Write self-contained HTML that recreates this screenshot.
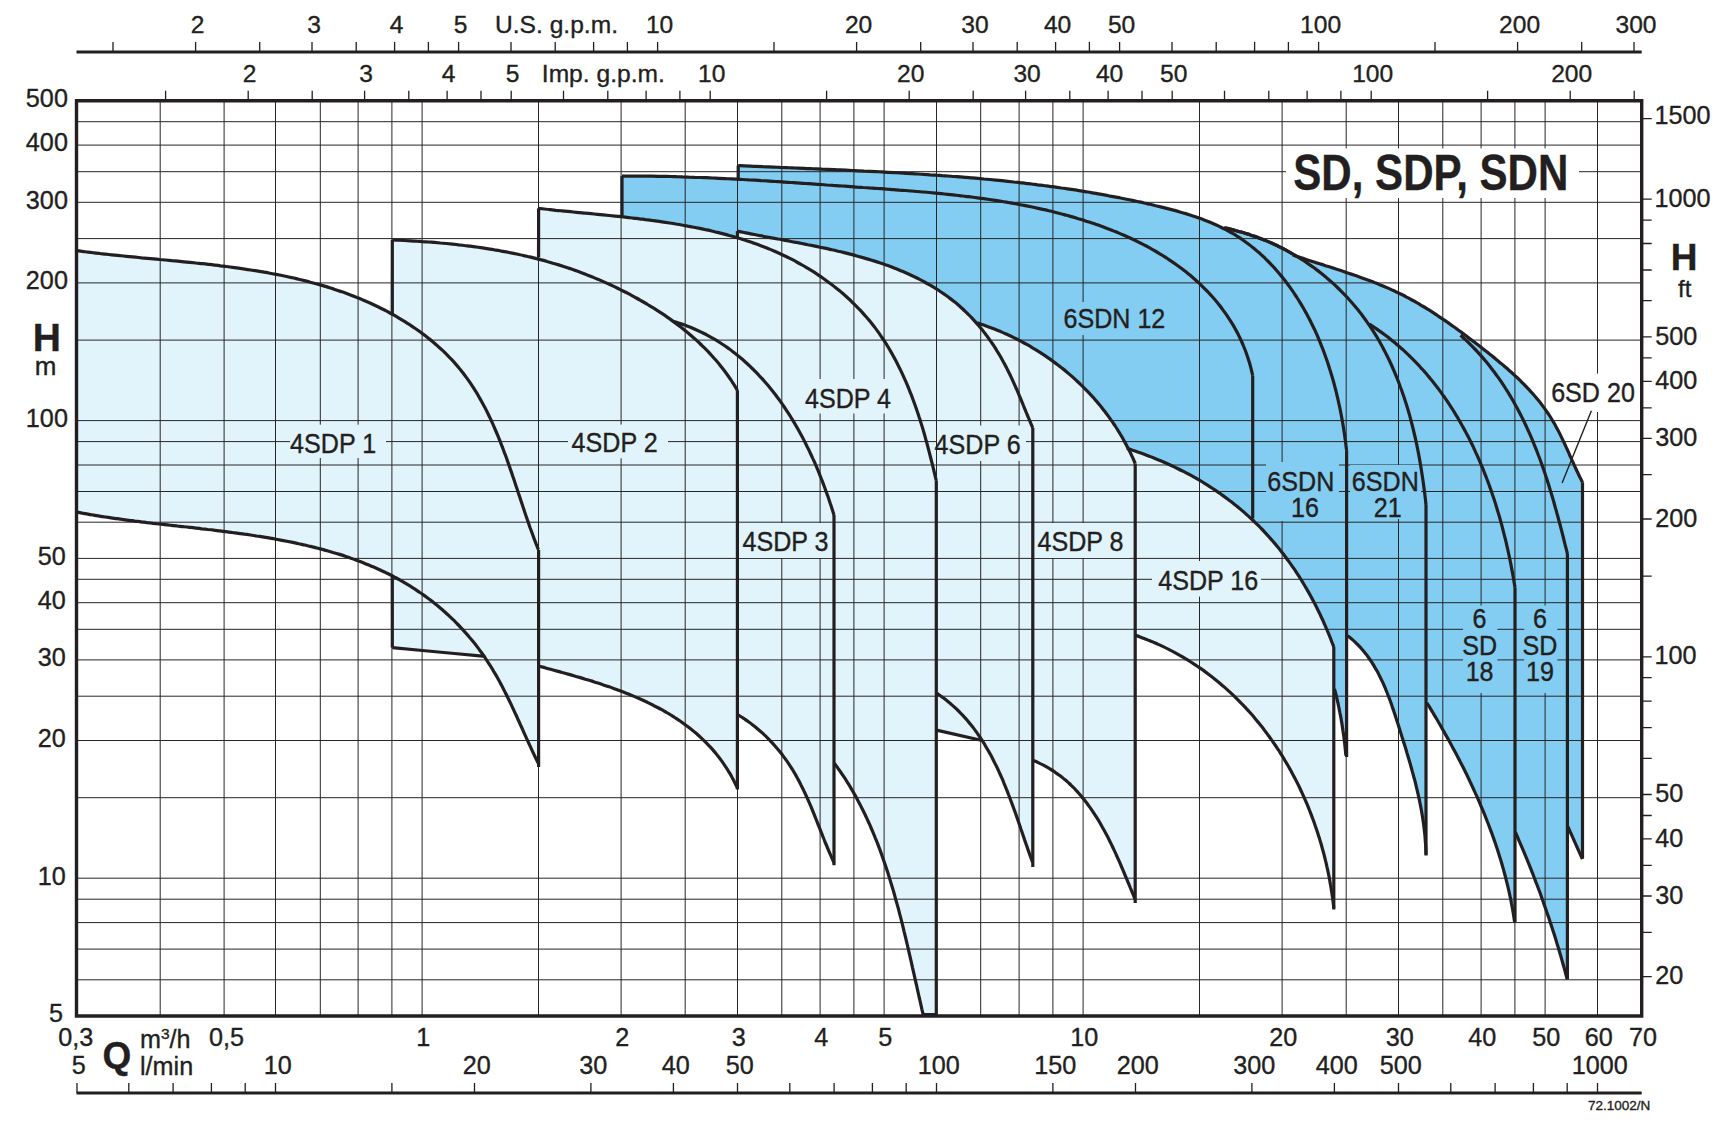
<!DOCTYPE html><html><head><meta charset="utf-8"><style>html,body{margin:0;padding:0;background:#fff;}svg{display:block}text{font-family:"Liberation Sans",Arial,Helvetica,sans-serif;fill:#231f20;stroke:#231f20;stroke-width:0.35px}</style></head><body>
<svg width="1730" height="1130" viewBox="0 0 1730 1130">
<rect width="1730" height="1130" fill="#fff"/>
<path d="M622 176.1C623 176.1 626.1 176.1 628.1 176.1C630.1 176.1 632.1 176.1 634.1 176.1C636.2 176.1 638.2 176.1 640.2 176.1C642.2 176.1 644.3 176.1 646.3 176.1C648.3 176.1 650.3 176.2 652.3 176.2C654.3 176.2 656.4 176.2 658.4 176.3C660.4 176.3 662.4 176.3 664.4 176.4C666.4 176.4 668.5 176.5 670.5 176.5C672.5 176.6 674.5 176.6 676.5 176.7C678.5 176.7 680.6 176.8 682.6 176.9C684.6 176.9 686.6 177 688.6 177.1C690.6 177.1 692.6 177.2 694.6 177.3C696.6 177.3 698.7 177.4 700.7 177.5C702.7 177.6 704.7 177.7 706.7 177.7C708.7 177.8 710.7 177.9 712.7 178C714.7 178.1 716.7 178.2 718.7 178.3C720.8 178.4 722.8 178.5 724.8 178.6C726.8 178.7 728.8 178.8 730.8 178.9C732.8 179 735.8 179.1 736.8 179.2L738.2 165.6C739.2 165.6 742.2 165.8 744.2 165.8C746.2 165.9 748.2 166 750.2 166.1C752.2 166.2 754.1 166.3 756.1 166.3C758.1 166.4 760.1 166.5 762.1 166.6C764.1 166.6 766.1 166.7 768.1 166.8C770.1 166.9 772.1 167 774.1 167.1C776.1 167.2 778.1 167.3 780.1 167.4C782.1 167.4 784.1 167.5 786.1 167.6C788.1 167.7 790.1 167.8 792.1 167.9C794.1 168 796.1 168 798.1 168.1C800.1 168.2 802.1 168.3 804 168.4C806 168.5 808 168.6 810 168.6C812 168.7 814 168.8 816 168.9C818 169 820 169.1 822 169.2C824 169.2 826 169.3 828 169.4C830 169.5 832 169.6 834 169.7C836 169.8 838 169.9 840 169.9C842 170 844 170.1 846 170.2C848 170.3 850 170.4 852 170.5C854 170.6 856 170.7 858 170.8C860 170.9 862 171 864 171.1C866 171.1 868 171.2 870 171.3C872 171.4 874 171.5 876 171.6C878 171.7 880 171.8 882 171.9C884 172.1 886 172.2 888 172.3C890 172.4 892 172.5 894 172.6C896 172.7 898 172.8 900 172.9C902 173 904 173.1 906 173.3C908 173.4 910 173.5 912 173.6C914 173.7 916 173.9 918 174C920 174.1 922 174.2 924 174.4C926 174.5 928 174.6 930 174.8C932 174.9 934 175 936 175.2C938 175.3 940 175.4 942 175.6C944 175.7 946 175.9 948 176C950 176.2 952 176.3 954 176.5C956 176.6 958 176.8 960 176.9C962 177.1 964 177.2 966 177.4C968 177.6 970 177.7 972 177.9C974 178.1 976 178.3 977.9 178.4C979.9 178.6 981.9 178.8 983.9 179C985.9 179.1 987.9 179.3 989.9 179.5C991.9 179.7 993.9 179.9 995.9 180.1C997.9 180.3 999.9 180.5 1001.9 180.7C1003.8 180.9 1005.8 181.1 1007.8 181.3C1009.8 181.5 1011.8 181.7 1013.8 182C1015.8 182.2 1017.8 182.4 1019.8 182.6C1021.8 182.8 1023.7 183.1 1025.7 183.3C1027.7 183.5 1029.7 183.8 1031.7 184C1033.7 184.3 1035.7 184.5 1037.6 184.8C1039.6 185 1041.6 185.3 1043.6 185.5C1045.6 185.8 1047.6 186 1049.5 186.3C1051.5 186.6 1053.5 186.8 1055.5 187.1C1057.5 187.4 1059.5 187.7 1061.4 188C1063.4 188.2 1065.4 188.5 1067.4 188.8C1069.3 189.1 1071.3 189.4 1073.3 189.7C1075.3 190 1077.3 190.3 1079.2 190.7C1081.2 191 1083.2 191.3 1085.2 191.6C1087.1 191.9 1089.1 192.3 1091.1 192.6C1093.1 192.9 1095 193.3 1097 193.6C1099 194 1100.9 194.3 1102.9 194.7C1104.9 195 1106.9 195.4 1108.8 195.8C1110.8 196.1 1112.8 196.5 1114.7 196.9C1116.7 197.3 1118.7 197.6 1120.6 198C1122.6 198.4 1124.6 198.8 1126.5 199.2C1128.5 199.6 1130.4 200 1132.4 200.4C1134.4 200.8 1136.3 201.3 1138.3 201.7C1140.2 202.1 1142.2 202.5 1144.2 203C1146.1 203.4 1148.1 203.9 1150 204.3C1152 204.8 1153.9 205.2 1155.9 205.7C1157.9 206.1 1159.8 206.6 1161.8 207.1C1163.7 207.6 1165.7 208.1 1167.6 208.6C1169.5 209.1 1171.5 209.6 1173.4 210.1C1175.3 210.6 1177.3 211.2 1179.2 211.7C1181.1 212.3 1183 212.8 1185 213.4C1186.9 214 1188.8 214.6 1190.7 215.2C1192.6 215.8 1194.4 216.4 1196.3 217.1C1198.2 217.7 1200.1 218.4 1201.9 219.1C1203.8 219.8 1205.6 220.5 1207.5 221.2C1209.3 222 1211.1 222.7 1212.9 223.5C1214.7 224.3 1216.5 225.1 1218.3 225.9C1220.1 226.8 1222.7 228.1 1223.6 228.5L1224.2 227.8C1225.2 228 1228.2 228.7 1230.3 229.1C1232.3 229.6 1234.3 230.1 1236.2 230.7C1238.2 231.2 1240.2 231.7 1242.2 232.3C1244.1 232.9 1246.1 233.5 1248 234.1C1250 234.8 1251.9 235.4 1253.8 236.1C1255.8 236.8 1257.7 237.5 1259.6 238.2C1261.5 238.9 1263.4 239.7 1265.3 240.4C1267.1 241.2 1269 242 1270.9 242.8C1272.7 243.6 1274.6 244.5 1276.4 245.3C1278.2 246.2 1280 247.1 1281.8 248C1283.6 248.9 1285.4 249.9 1287.2 250.8C1289 251.8 1291.6 253.3 1292.5 253.8L1292.7 254.9C1293.7 255.2 1296.5 256.2 1298.5 256.9C1300.4 257.5 1302.3 258.2 1304.2 258.8C1306.2 259.4 1308.1 260.1 1310 260.7C1312 261.3 1313.9 261.9 1315.8 262.6C1317.8 263.2 1319.7 263.8 1321.7 264.4C1323.6 265 1325.5 265.7 1327.5 266.3C1329.4 266.9 1331.3 267.5 1333.3 268.1C1335.2 268.8 1337.1 269.4 1339.1 270C1341 270.6 1342.9 271.3 1344.9 271.9C1346.8 272.6 1348.7 273.2 1350.6 273.9C1352.6 274.5 1354.5 275.2 1356.4 275.8C1358.3 276.5 1360.2 277.2 1362.1 277.9C1364 278.6 1365.9 279.3 1367.8 280C1369.7 280.7 1371.6 281.4 1373.5 282.1C1375.4 282.9 1377.3 283.6 1379.1 284.4C1381 285.1 1382.9 285.9 1384.7 286.7C1386.6 287.5 1388.4 288.3 1390.3 289.1C1392.1 290 1393.9 290.8 1395.8 291.7C1397.6 292.5 1399.4 293.4 1401.2 294.3C1403 295.2 1404.8 296.1 1406.6 297.1C1408.4 298 1410.2 299 1411.9 300C1413.7 300.9 1415.5 301.9 1417.2 302.9C1419 303.9 1420.7 305 1422.4 306C1424.2 307 1425.9 308.1 1427.6 309.2C1429.4 310.2 1431.1 311.3 1432.8 312.4C1434.5 313.5 1436.2 314.6 1437.9 315.8C1439.6 316.9 1441.3 318 1442.9 319.2C1444.6 320.3 1446.3 321.5 1448 322.6C1449.6 323.8 1451.3 325 1453 326.2C1454.6 327.3 1456.3 328.5 1457.9 329.7C1459.6 330.9 1461.2 332.2 1462.8 333.4C1464.5 334.6 1466.1 335.8 1467.7 337.1C1469.4 338.3 1471 339.5 1472.6 340.8C1474.2 342 1475.8 343.2 1477.5 344.5C1479.1 345.7 1480.7 347 1482.3 348.3C1483.9 349.5 1485.5 350.8 1487.1 352C1488.7 353.3 1490.3 354.6 1491.9 355.8C1493.4 357.1 1495 358.4 1496.6 359.7C1498.2 361 1499.7 362.3 1501.3 363.6C1502.8 364.9 1504.4 366.2 1505.9 367.5C1507.4 368.8 1508.9 370.2 1510.4 371.5C1511.9 372.9 1513.4 374.2 1514.9 375.6C1516.4 377 1517.9 378.3 1519.3 379.7C1520.7 381.1 1522.2 382.5 1523.6 384C1525 385.4 1526.4 386.8 1527.8 388.3C1529.1 389.7 1530.5 391.2 1531.8 392.7C1533.2 394.2 1534.5 395.7 1535.8 397.2C1537.1 398.7 1538.3 400.3 1539.6 401.8C1540.8 403.4 1542 405 1543.2 406.6C1544.4 408.2 1545.6 409.8 1546.7 411.5C1547.9 413.1 1549 414.8 1550.1 416.5C1551.2 418.2 1552.2 419.9 1553.2 421.7C1554.3 423.4 1555.3 425.2 1556.2 427C1557.2 428.8 1558.2 430.6 1559.1 432.4C1560 434.2 1560.9 436.1 1561.8 437.9C1562.7 439.8 1563.6 441.7 1564.5 443.5C1565.4 445.4 1566.2 447.3 1567.1 449.1C1567.9 451 1568.8 452.9 1569.6 454.8C1570.4 456.7 1571.3 458.5 1572.1 460.4C1573 462.3 1573.8 464.1 1574.6 466C1575.5 467.8 1576.3 469.7 1577.2 471.5C1578.1 473.4 1578.9 475.2 1579.8 477C1580.7 478.8 1582.1 481.4 1582.5 482.3L1582.5 858.5L1582.4 859.1L1567.9 826.6L1567.4 979.5L1567.2 979.2C1566.9 978.2 1566.2 975.3 1565.6 973.4C1565.1 971.4 1564.6 969.5 1564.1 967.6C1563.5 965.7 1563 963.7 1562.4 961.8C1561.9 959.9 1561.3 957.9 1560.8 956C1560.2 954.1 1559.6 952.2 1559.1 950.3C1558.5 948.3 1557.9 946.4 1557.3 944.5C1556.7 942.6 1556.2 940.7 1555.6 938.8C1555 936.9 1554.4 935 1553.8 933C1553.2 931.1 1552.5 929.2 1551.9 927.3C1551.3 925.4 1550.7 923.5 1550 921.6C1549.4 919.7 1548.8 917.8 1548.1 915.9C1547.5 914.1 1546.8 912.2 1546.2 910.3C1545.5 908.4 1544.9 906.5 1544.2 904.6C1543.5 902.7 1542.9 900.8 1542.2 899C1541.5 897.1 1540.8 895.2 1540.2 893.3C1539.5 891.4 1538.8 889.6 1538.1 887.7C1537.4 885.8 1536.7 883.9 1535.9 882.1C1535.2 880.2 1534.5 878.3 1533.8 876.5C1533.1 874.6 1532.3 872.7 1531.6 870.9C1530.9 869 1530.1 867.1 1529.4 865.3C1528.6 863.4 1527.9 861.6 1527.1 859.7C1526.4 857.9 1525.6 856 1524.8 854.1C1524.1 852.3 1523.3 850.4 1522.5 848.6C1521.7 846.7 1520.9 844.9 1520.1 843.1C1519.3 841.2 1518.5 839.4 1517.7 837.5C1516.9 835.7 1515.7 832.9 1515.3 832L1515 922.2L1514.6 921.8C1514.4 920.8 1514 917.8 1513.7 915.8C1513.4 913.7 1513 911.7 1512.7 909.7C1512.3 907.7 1511.9 905.7 1511.5 903.7C1511.2 901.7 1510.8 899.7 1510.3 897.7C1509.9 895.8 1509.5 893.8 1509.1 891.8C1508.6 889.8 1508.2 887.8 1507.7 885.9C1507.2 883.9 1506.7 881.9 1506.2 879.9C1505.7 878 1505.2 876 1504.7 874C1504.2 872.1 1503.6 870.1 1503.1 868.2C1502.5 866.2 1502 864.3 1501.4 862.3C1500.8 860.4 1500.2 858.4 1499.6 856.5C1499 854.6 1498.4 852.6 1497.8 850.7C1497.2 848.8 1496.5 846.8 1495.9 844.9C1495.2 843 1494.6 841.1 1493.9 839.1C1493.2 837.2 1492.5 835.3 1491.9 833.4C1491.2 831.5 1490.4 829.6 1489.7 827.7C1489 825.8 1488.3 823.9 1487.5 822C1486.8 820.1 1486.1 818.2 1485.3 816.3C1484.5 814.4 1483.8 812.6 1483 810.7C1482.2 808.8 1481.4 806.9 1480.6 805.1C1479.8 803.2 1479 801.3 1478.2 799.4C1477.4 797.6 1476.6 795.7 1475.7 793.9C1474.9 792 1474 790.2 1473.2 788.3C1472.3 786.5 1471.5 784.6 1470.6 782.8C1469.7 780.9 1468.9 779.1 1468 777.3C1467.1 775.4 1466.2 773.6 1465.3 771.8C1464.4 770 1463.5 768.1 1462.6 766.3C1461.6 764.5 1460.7 762.7 1459.8 760.9C1458.8 759.1 1457.9 757.3 1457 755.5C1456 753.7 1455.1 751.9 1454.1 750.1C1453.1 748.3 1452.2 746.5 1451.2 744.7C1450.2 742.9 1449.3 741.2 1448.3 739.4C1447.3 737.6 1446.3 735.8 1445.3 734.1C1444.3 732.3 1443.3 730.5 1442.3 728.8C1441.3 727 1440.3 725.2 1439.3 723.5C1438.3 721.7 1437.2 720 1436.2 718.3C1435.2 716.5 1434.1 714.8 1433.1 713C1432 711.3 1431 709.6 1430 707.9C1428.9 706.1 1427.3 703.6 1426.8 702.7L1426 855.6L1426 854.5C1426 853.5 1425.9 850.4 1425.8 848.3C1425.7 846.3 1425.6 844.2 1425.4 842.2C1425.3 840.2 1425.1 838.1 1425 836.1C1424.8 834.1 1424.6 832.1 1424.3 830C1424.1 828 1423.8 826 1423.6 824C1423.3 822 1423 820 1422.7 818C1422.4 816 1422 814 1421.7 812C1421.3 810 1421 808 1420.6 806.1C1420.2 804.1 1419.8 802.1 1419.4 800.1C1419 798.1 1418.5 796.2 1418.1 794.2C1417.7 792.2 1417.2 790.3 1416.7 788.3C1416.2 786.3 1415.8 784.4 1415.3 782.4C1414.8 780.5 1414.3 778.5 1413.7 776.5C1413.2 774.6 1412.7 772.6 1412.1 770.7C1411.6 768.7 1411 766.8 1410.5 764.8C1409.9 762.9 1409.4 760.9 1408.8 759C1408.2 757 1407.6 755.1 1407 753.1C1406.5 751.2 1405.9 749.2 1405.3 747.3C1404.7 745.3 1404.1 743.4 1403.4 741.4C1402.8 739.5 1402.2 737.5 1401.6 735.6C1401 733.6 1400.4 731.7 1399.8 729.7C1399.2 727.8 1398.5 725.8 1397.9 723.8C1397.3 721.9 1396.7 719.9 1396 718C1395.4 716 1394.8 714.1 1394.1 712.1C1393.5 710.2 1392.8 708.3 1392.1 706.3C1391.5 704.4 1390.8 702.5 1390.1 700.5C1389.4 698.6 1388.7 696.7 1387.9 694.8C1387.2 692.9 1386.4 691.1 1385.7 689.2C1384.9 687.3 1384.1 685.5 1383.3 683.6C1382.4 681.8 1381.6 680 1380.7 678.2C1379.8 676.4 1378.9 674.6 1378 672.8C1377 671 1376.1 669.3 1375 667.6C1374 665.8 1373 664.1 1371.9 662.5C1370.8 660.8 1369.7 659.2 1368.5 657.5C1367.4 655.9 1366.2 654.3 1364.9 652.8C1363.7 651.2 1362.4 649.7 1361.1 648.2C1359.7 646.7 1358.3 645.2 1356.9 643.8C1355.4 642.3 1353.9 640.9 1352.4 639.6C1350.9 638.2 1348.4 636.3 1347.6 635.6L1346.6 757L1345.9 755.6C1345.8 754.6 1345.5 751.5 1345.3 749.4C1345.1 747.4 1344.9 745.3 1344.7 743.3C1344.4 741.2 1344.2 739.2 1343.9 737.2C1343.6 735.1 1343.3 733.1 1343 731C1342.7 729 1342.4 727 1342.1 724.9C1341.8 722.9 1341.4 720.9 1341.1 718.9C1340.7 716.8 1340.3 714.8 1339.9 712.8C1339.5 710.8 1339.1 708.8 1338.7 706.7C1338.3 704.7 1337.9 702.7 1337.4 700.7C1336.9 698.7 1336.5 696.7 1336 694.7C1335.5 692.7 1334.7 689.7 1334.5 688.7L1333.8 647C1333.4 646 1332.4 643.2 1331.6 641.3C1330.9 639.4 1330.2 637.5 1329.4 635.6C1328.6 633.7 1327.8 631.8 1327 630C1326.2 628.1 1325.4 626.2 1324.6 624.3C1323.8 622.5 1323 620.6 1322.1 618.8C1321.2 616.9 1320.4 615.1 1319.5 613.2C1318.6 611.4 1317.7 609.6 1316.8 607.7C1315.9 605.9 1315 604.1 1314 602.3C1313.1 600.5 1312.1 598.7 1311.1 596.9C1310.2 595.1 1309.2 593.3 1308.2 591.6C1307.2 589.8 1306.2 588 1305.1 586.3C1304.1 584.6 1303 582.8 1302 581.1C1300.9 579.4 1299.8 577.6 1298.7 575.9C1297.6 574.2 1296.5 572.5 1295.4 570.8C1294.2 569.2 1293.1 567.5 1291.9 565.8C1290.8 564.2 1289.6 562.5 1288.4 560.9C1287.2 559.3 1286 557.6 1284.8 556C1283.6 554.4 1282.3 552.8 1281.1 551.2C1279.8 549.6 1278.6 548.1 1277.3 546.5C1276 544.9 1274.7 543.4 1273.4 541.9C1272.1 540.3 1270.8 538.8 1269.4 537.3C1268.1 535.8 1266.7 534.3 1265.3 532.8C1264 531.4 1262.6 529.9 1261.2 528.5C1259.8 527 1258.4 525.6 1256.9 524.2C1255.5 522.8 1254 521.4 1252.6 520C1251.1 518.6 1249.6 517.2 1248.1 515.9C1246.6 514.6 1245.1 513.2 1243.6 511.9C1242.1 510.6 1240.6 509.3 1239 508C1237.5 506.7 1235.9 505.4 1234.3 504.2C1232.7 502.9 1231.2 501.7 1229.5 500.5C1227.9 499.3 1226.3 498 1224.7 496.9C1223.1 495.7 1221.4 494.5 1219.8 493.3C1218.1 492.2 1216.5 491 1214.8 489.9C1213.1 488.8 1211.4 487.7 1209.7 486.6C1208 485.5 1206.3 484.4 1204.6 483.4C1202.9 482.3 1201.1 481.2 1199.4 480.2C1197.6 479.2 1195.9 478.2 1194.1 477.2C1192.3 476.2 1190.6 475.2 1188.8 474.2C1187 473.3 1185.2 472.3 1183.4 471.4C1181.6 470.5 1179.8 469.6 1177.9 468.7C1176.1 467.8 1174.3 466.9 1172.4 466C1170.6 465.2 1168.7 464.3 1166.9 463.5C1165 462.6 1163.2 461.8 1161.3 461C1159.4 460.2 1157.5 459.4 1155.6 458.7C1153.7 457.9 1151.8 457.2 1149.9 456.4C1148 455.7 1146.1 455 1144.2 454.2C1142.3 453.5 1140.4 452.8 1138.4 452.2C1136.5 451.5 1134.6 450.8 1132.6 450.2C1130.7 449.5 1127.8 448.6 1126.8 448.3L1124.5 441.6C1124 440.7 1122.6 438.1 1121.6 436.3C1120.5 434.6 1119.5 432.8 1118.4 431.1C1117.4 429.4 1116.3 427.7 1115.2 426C1114.1 424.3 1112.9 422.7 1111.8 421C1110.6 419.4 1109.5 417.7 1108.3 416.1C1107.1 414.5 1105.9 412.9 1104.7 411.3C1103.4 409.7 1102.2 408.1 1100.9 406.5C1099.6 405 1098.4 403.4 1097.1 401.9C1095.7 400.4 1094.4 398.8 1093.1 397.3C1091.7 395.8 1090.4 394.4 1089 392.9C1087.6 391.4 1086.2 390 1084.8 388.6C1083.4 387.1 1082 385.7 1080.5 384.3C1079.1 382.9 1077.6 381.5 1076.1 380.2C1074.6 378.8 1073.1 377.5 1071.6 376.1C1070.1 374.8 1068.6 373.5 1067 372.2C1065.5 370.9 1063.9 369.6 1062.3 368.4C1060.8 367.1 1059.2 365.9 1057.6 364.7C1056 363.4 1054.3 362.2 1052.7 361.1C1051.1 359.9 1049.4 358.7 1047.8 357.6C1046.1 356.4 1044.4 355.3 1042.7 354.2C1041 353.1 1039.3 352 1037.6 350.9C1035.9 349.8 1034.2 348.8 1032.4 347.8C1030.7 346.7 1029 345.7 1027.2 344.7C1025.4 343.7 1023.7 342.8 1021.9 341.8C1020.1 340.9 1018.3 339.9 1016.5 339C1014.7 338.1 1012.9 337.2 1011 336.3C1009.2 335.5 1007.4 334.6 1005.5 333.8C1003.7 332.9 1001.8 332.1 1000 331.3C998.1 330.6 996.2 329.8 994.4 329C992.5 328.3 990.6 327.6 988.7 326.9C986.8 326.2 984.9 325.5 983 324.8C981.1 324.2 978.2 323.2 977.2 322.9L975.4 321.9C974.7 321.1 972.7 318.9 971.3 317.4C969.9 316 968.5 314.5 967.1 313.1C965.7 311.7 964.2 310.4 962.8 309C961.3 307.7 959.8 306.3 958.3 305C956.8 303.7 955.3 302.5 953.7 301.2C952.2 300 950.6 298.8 949 297.6C947.5 296.4 945.9 295.2 944.2 294.1C942.6 293 941 291.9 939.3 290.8C937.7 289.7 936 288.6 934.3 287.6C932.6 286.6 930.9 285.5 929.2 284.6C927.5 283.6 925.8 282.6 924 281.7C922.3 280.7 920.5 279.8 918.7 278.9C916.9 278 915.2 277.1 913.3 276.2C911.5 275.4 909.7 274.5 907.9 273.7C906.1 272.9 904.2 272.1 902.4 271.3C900.5 270.5 898.7 269.8 896.8 269C894.9 268.3 893 267.6 891.1 266.8C889.2 266.1 887.3 265.4 885.4 264.8C883.5 264.1 881.6 263.4 879.6 262.8C877.7 262.1 875.8 261.5 873.8 260.9C871.9 260.3 869.9 259.7 868 259.1C866 258.5 864 257.9 862.1 257.4C860.1 256.8 858.1 256.2 856.1 255.7C854.1 255.2 852.1 254.6 850.1 254.1C848.2 253.6 846.2 253.1 844.2 252.6C842.2 252.1 840.1 251.6 838.1 251.2C836.1 250.7 834.1 250.2 832.1 249.8C830.1 249.3 828.1 248.9 826.1 248.4C824 248 822 247.6 820 247.2C818 246.7 816 246.3 814 245.9C811.9 245.5 809.9 245.1 807.9 244.7C805.9 244.3 803.9 243.9 801.9 243.5C799.9 243.1 797.8 242.7 795.8 242.3C793.8 242 791.8 241.6 789.8 241.2C787.8 240.8 785.8 240.5 783.8 240.1C781.8 239.7 779.9 239.3 777.9 239C775.9 238.6 773.9 238.2 771.9 237.9C770 237.5 768 237.1 766 236.8C764.1 236.4 762.1 236 760.2 235.7C758.2 235.3 756.3 234.9 754.4 234.5C752.4 234.2 750.5 233.8 748.6 233.4C746.7 233 744.8 232.7 742.9 232.3C741 231.9 738.1 231.3 737.2 231.1L735 237.1C734.1 236.8 731.2 236 729.2 235.5C727.3 234.9 725.3 234.4 723.4 233.9C721.4 233.4 719.5 232.9 717.5 232.4C715.5 231.9 713.6 231.5 711.6 231C709.6 230.5 707.6 230.1 705.7 229.7C703.7 229.2 701.7 228.8 699.7 228.4C697.7 228 695.7 227.6 693.7 227.2C691.7 226.8 689.7 226.4 687.7 226.1C685.7 225.7 683.7 225.3 681.7 225C679.7 224.6 677.7 224.3 675.7 224C673.7 223.6 671.7 223.3 669.7 223C667.6 222.7 665.6 222.4 663.6 222.1C661.6 221.8 659.6 221.5 657.6 221.2C655.5 220.9 653.5 220.6 651.5 220.4C649.5 220.1 647.5 219.8 645.4 219.6C643.4 219.3 641.4 219.1 639.4 218.8C637.4 218.6 635.3 218.3 633.3 218.1C631.3 217.9 628.3 217.5 627.3 217.4L622 215.8Z" fill="#84cdf2"/>
<path d="M76.5 250.6C77.5 250.7 80.4 251.1 82.3 251.4C84.2 251.6 86.2 251.9 88.1 252.1C90 252.4 92 252.6 93.9 252.8C95.9 253.1 97.9 253.3 99.8 253.5C101.8 253.7 103.7 254 105.7 254.2C107.7 254.4 109.6 254.6 111.6 254.8C113.6 255 115.6 255.2 117.5 255.4C119.5 255.6 121.5 255.8 123.5 256C125.5 256.2 127.5 256.4 129.5 256.6C131.5 256.8 133.5 257 135.5 257.2C137.5 257.4 139.5 257.6 141.5 257.8C143.5 257.9 145.5 258.1 147.5 258.3C149.5 258.5 151.5 258.7 153.5 258.9C155.5 259.1 157.6 259.3 159.6 259.5C161.6 259.6 163.6 259.8 165.6 260C167.7 260.2 169.7 260.4 171.7 260.6C173.7 260.8 175.7 261 177.8 261.2C179.8 261.4 181.8 261.6 183.9 261.8C185.9 262 187.9 262.2 189.9 262.4C192 262.6 194 262.8 196 263C198.1 263.2 200.1 263.5 202.1 263.7C204.2 263.9 206.2 264.1 208.2 264.4C210.2 264.6 212.3 264.8 214.3 265.1C216.3 265.3 218.4 265.5 220.4 265.8C222.4 266 224.4 266.3 226.5 266.5C228.5 266.8 230.5 267.1 232.5 267.3C234.6 267.6 236.6 267.9 238.6 268.2C240.6 268.5 242.7 268.8 244.7 269.1C246.7 269.4 248.7 269.7 250.7 270C252.7 270.3 254.7 270.6 256.8 270.9C258.8 271.3 260.8 271.6 262.8 271.9C264.8 272.3 266.8 272.6 268.8 273C270.8 273.4 272.8 273.8 274.8 274.1C276.8 274.5 278.8 274.9 280.8 275.3C282.7 275.7 284.7 276.1 286.7 276.5C288.7 277 290.7 277.4 292.6 277.8C294.6 278.3 296.6 278.7 298.5 279.2C300.5 279.7 302.5 280.2 304.4 280.6C306.4 281.1 308.3 281.6 310.3 282.2C312.2 282.7 314.2 283.2 316.1 283.7C318.1 284.3 320 284.8 321.9 285.4C323.9 286 325.8 286.5 327.7 287.1C329.6 287.7 331.5 288.3 333.4 288.9C335.3 289.6 337.2 290.2 339.1 290.9C341 291.5 342.9 292.2 344.8 292.8C346.7 293.5 348.6 294.2 350.5 294.9C352.3 295.6 354.2 296.4 356 297.1C357.9 297.9 359.8 298.6 361.6 299.4C363.5 300.2 365.3 300.9 367.1 301.8C369 302.6 370.8 303.4 372.6 304.2C374.4 305.1 376.2 305.9 378 306.8C379.8 307.7 381.6 308.6 383.4 309.5C385.2 310.4 387.9 311.8 388.8 312.3L392.3 239.9C393.3 239.9 396.3 240.1 398.3 240.2C400.4 240.3 402.4 240.4 404.4 240.5C406.4 240.6 408.4 240.7 410.4 240.8C412.4 240.9 414.4 241 416.4 241.2C418.5 241.3 420.5 241.4 422.5 241.6C424.5 241.7 426.5 241.8 428.5 242C430.5 242.1 432.5 242.3 434.5 242.4C436.5 242.6 438.5 242.8 440.5 243C442.6 243.1 444.6 243.3 446.6 243.5C448.6 243.7 450.6 243.9 452.6 244.1C454.6 244.3 456.6 244.5 458.6 244.8C460.6 245 462.6 245.2 464.5 245.5C466.5 245.7 468.5 246 470.5 246.2C472.5 246.5 474.5 246.7 476.5 247C478.5 247.3 480.5 247.6 482.5 247.9C484.4 248.2 486.4 248.5 488.4 248.8C490.4 249.1 492.4 249.4 494.3 249.8C496.3 250.1 498.3 250.4 500.3 250.8C502.2 251.1 504.2 251.5 506.2 251.9C508.2 252.3 510.1 252.7 512.1 253.1C514 253.5 516 253.9 518 254.3C519.9 254.7 521.9 255.1 523.8 255.6C525.8 256 527.7 256.5 529.7 256.9C531.6 257.4 534.6 258.1 535.5 258.4L538.6 208.4C539.6 208.5 542.4 208.8 544.3 209C546.2 209.2 548.1 209.4 550.1 209.7C552 209.9 553.9 210.1 555.8 210.3C557.8 210.4 559.7 210.6 561.7 210.8C563.6 211 565.6 211.2 567.5 211.4C569.5 211.6 571.4 211.8 573.4 212C575.4 212.2 577.3 212.4 579.3 212.6C581.3 212.8 583.2 212.9 585.2 213.1C587.2 213.3 589.2 213.5 591.2 213.7C593.2 213.9 595.2 214.1 597.2 214.3C599.2 214.5 601.2 214.7 603.2 214.9C605.2 215.1 607.2 215.3 609.2 215.5C611.2 215.7 613.2 215.9 615.2 216.1C617.2 216.3 619.2 216.5 621.2 216.7C623.2 217 625.3 217.2 627.3 217.4C629.3 217.6 631.3 217.9 633.3 218.1C635.3 218.3 637.4 218.6 639.4 218.8C641.4 219.1 643.4 219.3 645.4 219.6C647.5 219.8 649.5 220.1 651.5 220.4C653.5 220.6 655.5 220.9 657.6 221.2C659.6 221.5 661.6 221.8 663.6 222.1C665.6 222.4 667.6 222.7 669.7 223C671.7 223.3 673.7 223.6 675.7 224C677.7 224.3 679.7 224.6 681.7 225C683.7 225.3 685.7 225.7 687.7 226.1C689.7 226.4 691.7 226.8 693.7 227.2C695.7 227.6 697.7 228 699.7 228.4C701.7 228.8 703.7 229.2 705.7 229.7C707.6 230.1 709.6 230.5 711.6 231C713.6 231.5 715.5 231.9 717.5 232.4C719.5 232.9 721.4 233.4 723.4 233.9C725.3 234.4 727.3 234.9 729.2 235.5C731.2 236 734.1 236.8 735 237.1L737.2 231.1C738.1 231.3 741 231.9 742.9 232.3C744.8 232.7 746.7 233 748.6 233.4C750.5 233.8 752.4 234.2 754.4 234.5C756.3 234.9 758.2 235.3 760.2 235.7C762.1 236 764.1 236.4 766 236.8C768 237.1 770 237.5 771.9 237.9C773.9 238.2 775.9 238.6 777.9 239C779.9 239.3 781.8 239.7 783.8 240.1C785.8 240.5 787.8 240.8 789.8 241.2C791.8 241.6 793.8 242 795.8 242.3C797.8 242.7 799.9 243.1 801.9 243.5C803.9 243.9 805.9 244.3 807.9 244.7C809.9 245.1 811.9 245.5 814 245.9C816 246.3 818 246.7 820 247.2C822 247.6 824 248 826.1 248.4C828.1 248.9 830.1 249.3 832.1 249.8C834.1 250.2 836.1 250.7 838.1 251.2C840.1 251.6 842.2 252.1 844.2 252.6C846.2 253.1 848.2 253.6 850.1 254.1C852.1 254.6 854.1 255.2 856.1 255.7C858.1 256.2 860.1 256.8 862.1 257.4C864 257.9 866 258.5 868 259.1C869.9 259.7 871.9 260.3 873.8 260.9C875.8 261.5 877.7 262.1 879.6 262.8C881.6 263.4 883.5 264.1 885.4 264.8C887.3 265.4 889.2 266.1 891.1 266.8C893 267.6 894.9 268.3 896.8 269C898.7 269.8 900.5 270.5 902.4 271.3C904.2 272.1 906.1 272.9 907.9 273.7C909.7 274.5 911.5 275.4 913.3 276.2C915.2 277.1 916.9 278 918.7 278.9C920.5 279.8 922.3 280.7 924 281.7C925.8 282.6 927.5 283.6 929.2 284.6C930.9 285.5 932.6 286.6 934.3 287.6C936 288.6 937.7 289.7 939.3 290.8C941 291.9 942.6 293 944.2 294.1C945.9 295.2 947.5 296.4 949 297.6C950.6 298.8 952.2 300 953.7 301.2C955.3 302.5 956.8 303.7 958.3 305C959.8 306.3 961.3 307.7 962.8 309C964.2 310.4 965.7 311.7 967.1 313.1C968.5 314.5 969.9 316 971.3 317.4C972.7 318.9 974.7 321.1 975.4 321.9L977.2 322.9C978.2 323.2 981.1 324.2 983 324.8C984.9 325.5 986.8 326.2 988.7 326.9C990.6 327.6 992.5 328.3 994.4 329C996.2 329.8 998.1 330.6 1000 331.3C1001.8 332.1 1003.7 332.9 1005.5 333.8C1007.4 334.6 1009.2 335.5 1011 336.3C1012.9 337.2 1014.7 338.1 1016.5 339C1018.3 339.9 1020.1 340.9 1021.9 341.8C1023.7 342.8 1025.4 343.7 1027.2 344.7C1029 345.7 1030.7 346.7 1032.4 347.8C1034.2 348.8 1035.9 349.8 1037.6 350.9C1039.3 352 1041 353.1 1042.7 354.2C1044.4 355.3 1046.1 356.4 1047.8 357.6C1049.4 358.7 1051.1 359.9 1052.7 361.1C1054.3 362.2 1056 363.4 1057.6 364.7C1059.2 365.9 1060.8 367.1 1062.3 368.4C1063.9 369.6 1065.5 370.9 1067 372.2C1068.6 373.5 1070.1 374.8 1071.6 376.1C1073.1 377.5 1074.6 378.8 1076.1 380.2C1077.6 381.5 1079.1 382.9 1080.5 384.3C1082 385.7 1083.4 387.1 1084.8 388.6C1086.2 390 1087.6 391.4 1089 392.9C1090.4 394.4 1091.7 395.8 1093.1 397.3C1094.4 398.8 1095.7 400.4 1097.1 401.9C1098.4 403.4 1099.6 405 1100.9 406.5C1102.2 408.1 1103.4 409.7 1104.7 411.3C1105.9 412.9 1107.1 414.5 1108.3 416.1C1109.5 417.7 1110.6 419.4 1111.8 421C1112.9 422.7 1114.1 424.3 1115.2 426C1116.3 427.7 1117.4 429.4 1118.4 431.1C1119.5 432.8 1120.5 434.6 1121.6 436.3C1122.6 438.1 1124 440.7 1124.5 441.6L1126.8 448.3C1127.8 448.6 1130.7 449.5 1132.6 450.2C1134.6 450.8 1136.5 451.5 1138.4 452.2C1140.4 452.8 1142.3 453.5 1144.2 454.2C1146.1 455 1148 455.7 1149.9 456.4C1151.8 457.2 1153.7 457.9 1155.6 458.7C1157.5 459.4 1159.4 460.2 1161.3 461C1163.2 461.8 1165 462.6 1166.9 463.5C1168.7 464.3 1170.6 465.2 1172.4 466C1174.3 466.9 1176.1 467.8 1177.9 468.7C1179.8 469.6 1181.6 470.5 1183.4 471.4C1185.2 472.3 1187 473.3 1188.8 474.2C1190.6 475.2 1192.3 476.2 1194.1 477.2C1195.9 478.2 1197.6 479.2 1199.4 480.2C1201.1 481.2 1202.9 482.3 1204.6 483.4C1206.3 484.4 1208 485.5 1209.7 486.6C1211.4 487.7 1213.1 488.8 1214.8 489.9C1216.5 491 1218.1 492.2 1219.8 493.3C1221.4 494.5 1223.1 495.7 1224.7 496.9C1226.3 498 1227.9 499.3 1229.5 500.5C1231.2 501.7 1232.7 502.9 1234.3 504.2C1235.9 505.4 1237.5 506.7 1239 508C1240.6 509.3 1242.1 510.6 1243.6 511.9C1245.1 513.2 1246.6 514.6 1248.1 515.9C1249.6 517.2 1251.1 518.6 1252.6 520C1254 521.4 1255.5 522.8 1256.9 524.2C1258.4 525.6 1259.8 527 1261.2 528.5C1262.6 529.9 1264 531.4 1265.3 532.8C1266.7 534.3 1268.1 535.8 1269.4 537.3C1270.8 538.8 1272.1 540.3 1273.4 541.9C1274.7 543.4 1276 544.9 1277.3 546.5C1278.6 548.1 1279.8 549.6 1281.1 551.2C1282.3 552.8 1283.6 554.4 1284.8 556C1286 557.6 1287.2 559.3 1288.4 560.9C1289.6 562.5 1290.8 564.2 1291.9 565.8C1293.1 567.5 1294.2 569.2 1295.4 570.8C1296.5 572.5 1297.6 574.2 1298.7 575.9C1299.8 577.6 1300.9 579.4 1302 581.1C1303 582.8 1304.1 584.6 1305.1 586.3C1306.2 588 1307.2 589.8 1308.2 591.6C1309.2 593.3 1310.2 595.1 1311.1 596.9C1312.1 598.7 1313.1 600.5 1314 602.3C1315 604.1 1315.9 605.9 1316.8 607.7C1317.7 609.6 1318.6 611.4 1319.5 613.2C1320.4 615.1 1321.2 616.9 1322.1 618.8C1323 620.6 1323.8 622.5 1324.6 624.3C1325.4 626.2 1326.2 628.1 1327 630C1327.8 631.8 1328.6 633.7 1329.4 635.6C1330.2 637.5 1330.9 639.4 1331.6 641.3C1332.4 643.2 1333.4 646 1333.8 647L1333.8 908L1333.8 908C1333.7 907 1333.4 904 1333.1 902.1C1332.9 900.1 1332.6 898.1 1332.3 896.1C1332 894.2 1331.7 892.2 1331.4 890.2C1331.1 888.2 1330.8 886.3 1330.4 884.3C1330.1 882.3 1329.7 880.3 1329.4 878.4C1329 876.4 1328.6 874.4 1328.2 872.5C1327.8 870.5 1327.4 868.6 1326.9 866.6C1326.5 864.6 1326 862.7 1325.5 860.7C1325.1 858.8 1324.6 856.8 1324.1 854.9C1323.6 852.9 1323.1 851 1322.5 849C1322 847.1 1321.4 845.2 1320.9 843.2C1320.3 841.3 1319.7 839.4 1319.1 837.4C1318.5 835.5 1317.9 833.6 1317.3 831.7C1316.7 829.8 1316 827.9 1315.3 826C1314.7 824 1314 822.1 1313.3 820.3C1312.6 818.4 1311.9 816.5 1311.2 814.6C1310.5 812.7 1309.7 810.8 1309 809C1308.2 807.1 1307.5 805.2 1306.7 803.4C1305.9 801.5 1305.1 799.7 1304.3 797.8C1303.5 796 1302.6 794.1 1301.8 792.3C1300.9 790.5 1300.1 788.7 1299.2 786.8C1298.3 785 1297.4 783.2 1296.5 781.4C1295.6 779.6 1294.7 777.8 1293.7 776.1C1292.8 774.3 1291.8 772.5 1290.9 770.7C1289.9 769 1288.9 767.2 1287.9 765.5C1286.9 763.7 1285.9 762 1284.8 760.3C1283.8 758.5 1282.8 756.8 1281.7 755.1C1280.6 753.4 1279.6 751.7 1278.5 750C1277.4 748.4 1276.3 746.7 1275.1 745C1274 743.4 1272.9 741.7 1271.7 740.1C1270.6 738.4 1269.4 736.8 1268.2 735.2C1267 733.6 1265.8 731.9 1264.6 730.4C1263.4 728.8 1262.2 727.2 1260.9 725.6C1259.7 724 1258.4 722.5 1257.1 720.9C1255.9 719.4 1254.6 717.9 1253.3 716.3C1252 714.8 1250.6 713.3 1249.3 711.8C1248 710.3 1246.6 708.9 1245.3 707.4C1243.9 705.9 1242.5 704.5 1241.1 703.1C1239.7 701.6 1238.3 700.2 1236.9 698.8C1235.5 697.4 1234.1 696 1232.6 694.6C1231.2 693.3 1229.7 691.9 1228.2 690.6C1226.8 689.2 1225.3 687.9 1223.8 686.6C1222.3 685.3 1220.7 684 1219.2 682.7C1217.7 681.4 1216.1 680.1 1214.6 678.9C1213 677.6 1211.4 676.4 1209.8 675.2C1208.2 674 1206.6 672.8 1205 671.6C1203.4 670.4 1201.8 669.3 1200.1 668.1C1198.5 667 1196.9 665.9 1195.2 664.8C1193.5 663.7 1191.8 662.6 1190.1 661.5C1188.4 660.4 1186.7 659.4 1185 658.4C1183.3 657.3 1181.6 656.3 1179.8 655.3C1178.1 654.3 1176.3 653.4 1174.5 652.4C1172.8 651.4 1171 650.5 1169.2 649.6C1167.4 648.7 1165.6 647.8 1163.7 646.9C1161.9 646.1 1160.1 645.2 1158.2 644.4C1156.4 643.5 1154.5 642.7 1152.7 641.9C1150.8 641.1 1148.9 640.4 1147 639.6C1145.1 638.9 1143.2 638.1 1141.3 637.4C1139.4 636.7 1136.5 635.7 1135.5 635.4L1135 899L1135 899C1134.6 898.1 1133.5 895.4 1132.7 893.5C1132 891.7 1131.2 889.9 1130.4 888C1129.7 886.2 1128.9 884.3 1128.1 882.4C1127.4 880.6 1126.6 878.7 1125.8 876.8C1125 874.9 1124.2 873.1 1123.4 871.2C1122.6 869.3 1121.8 867.4 1121 865.5C1120.2 863.6 1119.4 861.8 1118.6 859.9C1117.7 858 1116.9 856.1 1116 854.2C1115.2 852.4 1114.3 850.5 1113.4 848.6C1112.5 846.8 1111.7 844.9 1110.7 843C1109.8 841.2 1108.9 839.4 1108 837.5C1107 835.7 1106.1 833.9 1105.1 832.1C1104.1 830.2 1103.1 828.4 1102.1 826.7C1101.1 824.9 1100.1 823.1 1099.1 821.4C1098 819.6 1096.9 817.9 1095.8 816.2C1094.8 814.4 1093.6 812.7 1092.5 811.1C1091.4 809.4 1090.2 807.7 1089 806.1C1087.8 804.5 1086.6 802.8 1085.4 801.3C1084.2 799.7 1082.9 798.1 1081.6 796.6C1080.3 795 1079 793.5 1077.7 792C1076.3 790.6 1075 789.1 1073.6 787.7C1072.2 786.3 1070.7 784.9 1069.3 783.5C1067.8 782.2 1066.3 780.8 1064.8 779.6C1063.2 778.3 1061.7 777 1060.1 775.8C1058.5 774.6 1056.9 773.4 1055.2 772.3C1053.5 771.1 1051.8 770 1050.1 769C1048.4 767.9 1046.6 766.9 1044.8 765.9C1042.9 764.9 1041.1 764 1039.2 763.1C1037.3 762.2 1034.4 761 1033.4 760.6L1032.6 862.5L1032.6 862.5C1032.3 861.6 1031.3 858.8 1030.6 857C1029.9 855.1 1029.3 853.2 1028.6 851.4C1028 849.5 1027.3 847.6 1026.7 845.8C1026 843.9 1025.4 842 1024.7 840.1C1024.1 838.2 1023.4 836.3 1022.8 834.4C1022.1 832.5 1021.5 830.6 1020.8 828.7C1020.2 826.8 1019.5 824.9 1018.9 823C1018.2 821.1 1017.5 819.2 1016.9 817.3C1016.2 815.4 1015.5 813.5 1014.9 811.6C1014.2 809.7 1013.5 807.8 1012.8 805.9C1012.1 804 1011.4 802.1 1010.7 800.2C1010 798.3 1009.3 796.4 1008.5 794.5C1007.8 792.6 1007.1 790.8 1006.3 788.9C1005.6 787 1004.8 785.2 1004 783.3C1003.3 781.4 1002.5 779.6 1001.7 777.7C1000.9 775.9 1000.1 774.1 999.2 772.2C998.4 770.4 997.6 768.6 996.7 766.8C995.8 765 994.9 763.2 994 761.4C993.1 759.6 992.2 757.9 991.3 756.1C990.4 754.4 989.4 752.6 988.4 750.9C987.4 749.2 986.5 747.5 985.4 745.8C984.4 744.1 982.8 741.6 982.3 740.7L981 740.2L936.5 730.1L936.5 1015.2L923.3 1015.2C923.1 1014.2 922.4 1011.3 921.9 1009.3C921.5 1007.3 921 1005.4 920.6 1003.4C920.1 1001.4 919.7 999.4 919.2 997.5C918.8 995.5 918.3 993.5 917.9 991.5C917.4 989.5 917 987.5 916.6 985.5C916.1 983.6 915.7 981.6 915.2 979.6C914.8 977.6 914.3 975.6 913.9 973.6C913.4 971.6 913 969.6 912.5 967.6C912.1 965.6 911.6 963.6 911.2 961.6C910.7 959.6 910.3 957.6 909.8 955.6C909.3 953.6 908.9 951.6 908.4 949.6C908 947.6 907.5 945.6 907 943.6C906.5 941.6 906.1 939.6 905.6 937.6C905.1 935.6 904.6 933.6 904.1 931.6C903.7 929.6 903.2 927.6 902.7 925.6C902.2 923.6 901.7 921.6 901.2 919.7C900.7 917.7 900.1 915.7 899.6 913.7C899.1 911.7 898.6 909.7 898.1 907.7C897.5 905.7 897 903.7 896.4 901.8C895.9 899.8 895.3 897.8 894.8 895.8C894.2 893.9 893.7 891.9 893.1 889.9C892.5 887.9 891.9 886 891.3 884C890.7 882.1 890.1 880.1 889.5 878.1C888.9 876.2 888.3 874.2 887.7 872.3C887.1 870.3 886.4 868.4 885.8 866.5C885.1 864.5 884.5 862.6 883.8 860.7C883.1 858.7 882.4 856.8 881.8 854.9C881.1 853 880.4 851.1 879.7 849.1C878.9 847.2 878.2 845.3 877.5 843.4C876.7 841.5 876 839.6 875.2 837.8C874.5 835.9 873.7 834 872.9 832.1C872.1 830.3 871.3 828.4 870.5 826.5C869.7 824.7 868.9 822.8 868 821C867.2 819.1 866.3 817.3 865.5 815.5C864.6 813.6 863.7 811.8 862.8 810C861.9 808.2 861 806.4 860.1 804.6C859.1 802.8 858.2 801 857.2 799.2C856.2 797.4 855.3 795.6 854.3 793.9C853.3 792.1 852.3 790.3 851.2 788.6C850.2 786.8 849.2 785.1 848.1 783.4C847 781.7 845.9 779.9 844.8 778.2C843.7 776.5 842.6 774.8 841.4 773.2C840.3 771.5 839.1 769.8 837.9 768.2C836.7 766.5 834.9 764 834.3 763.2L834 862.8L834 862.8C833.6 861.9 832.4 859.2 831.6 857.4C830.8 855.6 830 853.7 829.2 851.9C828.4 850.1 827.6 848.2 826.9 846.4C826.1 844.5 825.4 842.7 824.6 840.8C823.9 838.9 823.1 837.1 822.4 835.2C821.6 833.3 820.9 831.5 820.2 829.6C819.4 827.7 818.7 825.8 817.9 824C817.2 822.1 816.5 820.2 815.7 818.4C815 816.5 814.2 814.6 813.5 812.8C812.7 810.9 811.9 809 811.2 807.2C810.4 805.3 809.6 803.5 808.8 801.7C808 799.8 807.2 798 806.4 796.2C805.5 794.3 804.7 792.5 803.8 790.7C803 788.9 802.1 787.1 801.2 785.4C800.3 783.6 799.4 781.8 798.5 780.1C797.5 778.3 796.6 776.6 795.6 774.9C794.6 773.2 793.6 771.5 792.6 769.8C791.5 768.1 790.5 766.4 789.4 764.8C788.3 763.1 787.2 761.5 786 759.9C784.9 758.3 783.7 756.7 782.5 755.1C781.3 753.6 780.1 752 778.9 750.5C777.6 749 776.3 747.5 775 746C773.7 744.5 772.4 743 771 741.6C769.7 740.1 768.3 738.7 766.9 737.3C765.5 735.9 764 734.6 762.5 733.2C761.1 731.9 759.6 730.6 758 729.3C756.5 728 755 726.7 753.4 725.5C751.8 724.2 750.2 723 748.5 721.8C746.9 720.6 745.2 719.5 743.5 718.3C741.8 717.2 739.2 715.6 738.3 715L737.4 788L737.4 788C736.9 787 735.6 784.1 734.6 782.2C733.7 780.3 732.7 778.5 731.7 776.7C730.7 774.8 729.6 773.1 728.5 771.3C727.5 769.5 726.4 767.8 725.2 766.1C724.1 764.4 722.9 762.8 721.8 761.1C720.6 759.5 719.4 757.9 718.1 756.3C716.9 754.7 715.6 753.2 714.3 751.6C713 750.1 711.7 748.6 710.4 747.2C709 745.7 707.7 744.3 706.3 742.9C704.9 741.4 703.5 740.1 702 738.7C700.6 737.4 699.2 736 697.7 734.7C696.2 733.4 694.7 732.2 693.2 730.9C691.7 729.7 690.1 728.4 688.6 727.2C687 726 685.4 724.9 683.8 723.7C682.2 722.5 680.6 721.4 679 720.3C677.3 719.2 675.7 718.1 674 717C672.3 716 670.7 714.9 669 713.9C667.3 712.9 665.5 711.9 663.8 710.9C662.1 709.9 660.3 709 658.6 708C656.8 707.1 655 706.2 653.3 705.3C651.5 704.4 649.7 703.5 647.9 702.6C646.1 701.7 644.2 700.9 642.4 700C640.6 699.2 638.7 698.4 636.9 697.6C635 696.8 633.2 696 631.3 695.2C629.4 694.5 627.6 693.7 625.7 693C623.8 692.2 621.9 691.5 620 690.8C618.1 690.1 616.2 689.4 614.3 688.7C612.4 688 610.5 687.3 608.5 686.6C606.6 686 604.7 685.3 602.8 684.7C600.8 684 598.9 683.4 597 682.8C595 682.2 593.1 681.5 591.2 680.9C589.2 680.3 587.3 679.7 585.3 679.2C583.4 678.6 581.5 678 579.5 677.4C577.6 676.9 575.6 676.3 573.7 675.7C571.8 675.2 569.8 674.6 567.9 674.1C566 673.6 564 673 562.1 672.5C560.2 671.9 558.2 671.4 556.3 670.9C554.4 670.3 552.5 669.8 550.6 669.3C548.7 668.8 546.8 668.3 544.9 667.7C543 667.2 540.1 666.5 539.2 666.2L538.6 764L538.6 764C538.2 763.1 536.9 760.4 536 758.7C535.1 756.9 534.3 755.1 533.4 753.3C532.6 751.5 531.7 749.6 530.9 747.8C530.1 746 529.2 744.2 528.4 742.4C527.6 740.5 526.7 738.7 525.9 736.9C525.1 735 524.2 733.2 523.4 731.4C522.6 729.5 521.8 727.7 520.9 725.8C520.1 724 519.3 722.2 518.4 720.3C517.6 718.5 516.8 716.6 515.9 714.8C515.1 713 514.2 711.1 513.4 709.3C512.5 707.5 511.7 705.6 510.8 703.8C509.9 702 509 700.2 508.1 698.3C507.3 696.5 506.4 694.7 505.4 692.9C504.5 691.1 503.6 689.3 502.7 687.5C501.7 685.7 500.8 683.9 499.8 682.1C498.9 680.4 497.9 678.6 496.9 676.8C495.9 675.1 494.9 673.3 493.8 671.6C492.8 669.8 491.8 668.1 490.7 666.4C489.6 664.7 488 662.1 487.4 661.3L485.1 656.3C474.7 655.3 437.9 652 422.4 650.5C406.9 649 397.3 648.1 392.3 647.6L389.2 574.3C388.3 573.9 385.7 572.6 383.9 571.7C382.1 570.9 380.3 570 378.5 569.2C376.7 568.4 374.9 567.6 373.1 566.8C371.3 566 369.4 565.3 367.6 564.5C365.8 563.8 363.9 563 362.1 562.3C360.2 561.6 358.4 560.9 356.5 560.2C354.7 559.5 352.8 558.8 350.9 558.2C349 557.5 347.1 556.9 345.3 556.3C343.4 555.6 341.5 555 339.6 554.4C337.7 553.8 335.7 553.2 333.8 552.7C331.9 552.1 330 551.5 328.1 551C326.1 550.4 324.2 549.9 322.3 549.4C320.3 548.9 318.4 548.3 316.4 547.9C314.5 547.4 312.5 546.9 310.5 546.4C308.6 545.9 306.6 545.5 304.7 545C302.7 544.6 300.7 544.1 298.7 543.7C296.7 543.2 294.8 542.8 292.8 542.4C290.8 542 288.8 541.6 286.8 541.2C284.8 540.8 282.8 540.4 280.8 540.1C278.8 539.7 276.8 539.3 274.8 539C272.8 538.6 270.8 538.3 268.7 537.9C266.7 537.6 264.7 537.2 262.7 536.9C260.7 536.6 258.6 536.3 256.6 536C254.6 535.6 252.6 535.3 250.5 535C248.5 534.7 246.5 534.4 244.4 534.2C242.4 533.9 240.4 533.6 238.3 533.3C236.3 533 234.3 532.8 232.2 532.5C230.2 532.2 228.2 532 226.1 531.7C224.1 531.4 222 531.2 220 530.9C218 530.7 215.9 530.4 213.9 530.2C211.8 529.9 209.8 529.7 207.7 529.5C205.7 529.2 203.7 529 201.6 528.8C199.6 528.5 197.5 528.3 195.5 528.1C193.5 527.8 191.4 527.6 189.4 527.4C187.4 527.1 185.3 526.9 183.3 526.7C181.3 526.5 179.2 526.2 177.2 526C175.2 525.8 173.1 525.6 171.1 525.3C169.1 525.1 167 524.9 165 524.6C163 524.4 161 524.2 159 524C156.9 523.7 154.9 523.5 152.9 523.3C150.9 523 148.9 522.8 146.9 522.6C144.9 522.3 142.9 522.1 140.9 521.8C138.9 521.6 136.9 521.3 134.9 521.1C132.9 520.8 130.9 520.6 128.9 520.3C126.9 520.1 125 519.8 123 519.5C121 519.3 119 519 117.1 518.7C115.1 518.4 113.1 518.2 111.2 517.9C109.2 517.6 107.3 517.3 105.3 517C103.4 516.7 101.4 516.4 99.5 516.1C97.6 515.8 95.6 515.4 93.7 515.1C91.8 514.8 89.8 514.5 87.9 514.1C86 513.8 84.1 513.4 82.2 513.1C80.3 512.7 77.4 512.2 76.5 512Z" fill="#e2f4fb"/>
<path d="M160.2 100.8V1016M224.1 100.8V1016M275.5 100.8V1016M320.3 100.8V1016M358.1 100.8V1016M391.9 100.8V1016M422.1 100.8V1016M538.5 100.8V1016M621.1 100.8V1016M685.2 100.8V1016M737.5 100.8V1016M781.8 100.8V1016M820.1 100.8V1016M853.9 100.8V1016M884.1 100.8V1016M936.5 100.8V1016M980.7 100.8V1016M1019.1 100.8V1016M1052.9 100.8V1016M1083.1 100.8V1016M1199.5 100.8V1016M1282.1 100.8V1016M1346.2 100.8V1016M1398.5 100.8V1016M1442.8 100.8V1016M1481.1 100.8V1016M1514.9 100.8V1016M1545.1 100.8V1016M1597.5 100.8V1016M76.5 121.7H1641.7M76.5 145.1H1641.7M76.5 171.7H1641.7M76.5 202.3H1641.7M76.5 238.6H1641.7M76.5 282.9H1641.7M76.5 340.1H1641.7M76.5 420.6H1641.7M76.5 441.6H1641.7M76.5 465H1641.7M76.5 491.5H1641.7M76.5 522.2H1641.7M76.5 558.4H1641.7M76.5 579.3H1641.7M76.5 602.7H1641.7M76.5 629.3H1641.7M76.5 659.9H1641.7M76.5 696.2H1641.7M76.5 740.5H1641.7M76.5 797.7H1641.7M76.5 878.2H1641.7M76.5 899.2H1641.7M76.5 922.6H1641.7M76.5 949.1H1641.7M76.5 979.8H1641.7" stroke="#262626" stroke-width="1.0" fill="none"/>
<rect x="290" y="424.7" width="96" height="33.3" fill="#e2f4fb"/>
<rect x="568" y="424.6" width="100" height="33.7" fill="#e2f4fb"/>
<rect x="738.5" y="523" width="94" height="35" fill="#e2f4fb"/>
<rect x="800" y="379" width="96" height="34.5" fill="#e2f4fb"/>
<rect x="937" y="425.5" width="89" height="35.5" fill="#e2f4fb"/>
<rect x="1034" y="523" width="96" height="35" fill="#e2f4fb"/>
<rect x="1152" y="561" width="109" height="35.6" fill="#e2f4fb"/>
<rect x="1058" y="302" width="112" height="33" fill="#84cdf2"/>
<rect x="1266" y="462" width="73" height="59" fill="#84cdf2"/>
<rect x="1350" y="465" width="71" height="54" fill="#84cdf2"/>
<rect x="1463" y="605.6" width="34.4" height="87.4" fill="#84cdf2"/>
<rect x="1524.2" y="605.6" width="33.1" height="87.4" fill="#84cdf2"/>
<rect x="1286" y="148.4" width="293" height="49.6" fill="#fff"/>
<rect x="1548" y="373.6" width="92" height="38.4" fill="#fff"/>
<path d="M76.5 250.6C77.5 250.7 80.4 251.1 82.3 251.4C84.2 251.6 86.2 251.9 88.1 252.1C90 252.4 92 252.6 93.9 252.8C95.9 253.1 97.9 253.3 99.8 253.5C101.8 253.7 103.7 254 105.7 254.2C107.7 254.4 109.6 254.6 111.6 254.8C113.6 255 115.6 255.2 117.5 255.4C119.5 255.6 121.5 255.8 123.5 256C125.5 256.2 127.5 256.4 129.5 256.6C131.5 256.8 133.5 257 135.5 257.2C137.5 257.4 139.5 257.6 141.5 257.8C143.5 257.9 145.5 258.1 147.5 258.3C149.5 258.5 151.5 258.7 153.5 258.9C155.5 259.1 157.6 259.3 159.6 259.5C161.6 259.6 163.6 259.8 165.6 260C167.7 260.2 169.7 260.4 171.7 260.6C173.7 260.8 175.7 261 177.8 261.2C179.8 261.4 181.8 261.6 183.9 261.8C185.9 262 187.9 262.2 189.9 262.4C192 262.6 194 262.8 196 263C198.1 263.2 200.1 263.5 202.1 263.7C204.2 263.9 206.2 264.1 208.2 264.4C210.2 264.6 212.3 264.8 214.3 265.1C216.3 265.3 218.4 265.5 220.4 265.8C222.4 266 224.4 266.3 226.5 266.5C228.5 266.8 230.5 267.1 232.5 267.3C234.6 267.6 236.6 267.9 238.6 268.2C240.6 268.5 242.7 268.8 244.7 269.1C246.7 269.4 248.7 269.7 250.7 270C252.7 270.3 254.7 270.6 256.8 270.9C258.8 271.3 260.8 271.6 262.8 271.9C264.8 272.3 266.8 272.6 268.8 273C270.8 273.4 272.8 273.8 274.8 274.1C276.8 274.5 278.8 274.9 280.8 275.3C282.7 275.7 284.7 276.1 286.7 276.5C288.7 277 290.7 277.4 292.6 277.8C294.6 278.3 296.6 278.7 298.5 279.2C300.5 279.7 302.5 280.2 304.4 280.6C306.4 281.1 308.3 281.6 310.3 282.2C312.2 282.7 314.2 283.2 316.1 283.7C318.1 284.3 320 284.8 321.9 285.4C323.9 286 325.8 286.5 327.7 287.1C329.6 287.7 331.5 288.3 333.4 288.9C335.3 289.6 337.2 290.2 339.1 290.9C341 291.5 342.9 292.2 344.8 292.8C346.7 293.5 348.6 294.2 350.5 294.9C352.3 295.6 354.2 296.4 356 297.1C357.9 297.9 359.8 298.6 361.6 299.4C363.5 300.2 365.3 300.9 367.1 301.8C369 302.6 370.8 303.4 372.6 304.2C374.4 305.1 376.2 305.9 378 306.8C379.8 307.7 381.6 308.6 383.4 309.5C385.2 310.4 387 311.4 388.8 312.3C390.5 313.3 392.3 314.2 394 315.2C395.8 316.2 397.5 317.2 399.3 318.3C401 319.3 402.7 320.3 404.5 321.4C406.2 322.5 407.9 323.6 409.6 324.7C411.3 325.8 412.9 326.9 414.6 328C416.3 329.2 417.9 330.3 419.6 331.5C421.2 332.7 422.8 333.9 424.4 335.1C426 336.4 427.6 337.6 429.2 338.9C430.8 340.1 432.3 341.4 433.9 342.7C435.4 344 436.9 345.3 438.4 346.7C439.9 348 441.4 349.4 442.8 350.7C444.3 352.1 445.7 353.5 447.1 354.9C448.5 356.3 449.9 357.8 451.3 359.2C452.7 360.7 454 362.1 455.3 363.6C456.6 365.1 457.9 366.6 459.2 368.2C460.5 369.7 461.7 371.3 462.9 372.8C464.1 374.4 465.3 376 466.5 377.6C467.7 379.2 468.8 380.8 469.9 382.4C471 384.1 472.1 385.7 473.2 387.4C474.3 389.1 475.3 390.8 476.4 392.4C477.4 394.1 478.4 395.9 479.4 397.6C480.4 399.3 481.4 401.1 482.3 402.8C483.3 404.6 484.2 406.3 485.2 408.1C486.1 409.9 487 411.7 487.9 413.5C488.7 415.3 489.6 417.1 490.5 418.9C491.3 420.7 492.2 422.6 493 424.4C493.8 426.3 494.6 428.1 495.4 430C496.2 431.8 497 433.7 497.8 435.6C498.6 437.4 499.3 439.3 500.1 441.2C500.8 443.1 501.6 445 502.3 446.9C503 448.8 503.7 450.7 504.4 452.6C505.2 454.5 505.9 456.4 506.6 458.3C507.2 460.3 507.9 462.2 508.6 464.1C509.3 466 510 468 510.6 469.9C511.3 471.8 512 473.8 512.6 475.7C513.3 477.6 513.9 479.6 514.6 481.5C515.2 483.4 515.9 485.4 516.5 487.3C517.2 489.2 517.8 491.2 518.4 493.1C519.1 495 519.7 497 520.4 498.9C521 500.8 521.6 502.7 522.3 504.6C522.9 506.6 523.5 508.5 524.2 510.4C524.8 512.3 525.5 514.2 526.1 516.1C526.8 518 527.4 519.9 528.1 521.8C528.7 523.7 529.4 525.6 530 527.5C530.7 529.3 531.4 531.2 532.1 533.1C532.7 534.9 533.4 536.8 534.1 538.6C534.8 540.5 535.5 542.3 536.2 544.1C537 546 538 548.7 538.4 549.6" stroke="#231f20" stroke-width="3.2" fill="none" stroke-linejoin="round"/>
<path d="M538.6 550L538.6 767" stroke="#231f20" stroke-width="3.2" fill="none" stroke-linejoin="round"/>
<path d="M76.5 512C77.4 512.2 80.3 512.7 82.2 513.1C84.1 513.4 86 513.8 87.9 514.1C89.8 514.5 91.8 514.8 93.7 515.1C95.6 515.4 97.6 515.8 99.5 516.1C101.4 516.4 103.4 516.7 105.3 517C107.3 517.3 109.2 517.6 111.2 517.9C113.1 518.2 115.1 518.4 117.1 518.7C119 519 121 519.3 123 519.5C125 519.8 126.9 520.1 128.9 520.3C130.9 520.6 132.9 520.8 134.9 521.1C136.9 521.3 138.9 521.6 140.9 521.8C142.9 522.1 144.9 522.3 146.9 522.6C148.9 522.8 150.9 523 152.9 523.3C154.9 523.5 156.9 523.7 159 524C161 524.2 163 524.4 165 524.6C167 524.9 169.1 525.1 171.1 525.3C173.1 525.6 175.2 525.8 177.2 526C179.2 526.2 181.3 526.5 183.3 526.7C185.3 526.9 187.4 527.1 189.4 527.4C191.4 527.6 193.5 527.8 195.5 528.1C197.5 528.3 199.6 528.5 201.6 528.8C203.7 529 205.7 529.2 207.7 529.5C209.8 529.7 211.8 529.9 213.9 530.2C215.9 530.4 218 530.7 220 530.9C222 531.2 224.1 531.4 226.1 531.7C228.2 532 230.2 532.2 232.2 532.5C234.3 532.8 236.3 533 238.3 533.3C240.4 533.6 242.4 533.9 244.4 534.2C246.5 534.4 248.5 534.7 250.5 535C252.6 535.3 254.6 535.6 256.6 536C258.6 536.3 260.7 536.6 262.7 536.9C264.7 537.2 266.7 537.6 268.7 537.9C270.8 538.3 272.8 538.6 274.8 539C276.8 539.3 278.8 539.7 280.8 540.1C282.8 540.4 284.8 540.8 286.8 541.2C288.8 541.6 290.8 542 292.8 542.4C294.8 542.8 296.7 543.2 298.7 543.7C300.7 544.1 302.7 544.6 304.7 545C306.6 545.5 308.6 545.9 310.5 546.4C312.5 546.9 314.5 547.4 316.4 547.9C318.4 548.3 320.3 548.9 322.3 549.4C324.2 549.9 326.1 550.4 328.1 551C330 551.5 331.9 552.1 333.8 552.7C335.7 553.2 337.7 553.8 339.6 554.4C341.5 555 343.4 555.6 345.3 556.3C347.1 556.9 349 557.5 350.9 558.2C352.8 558.8 354.7 559.5 356.5 560.2C358.4 560.9 360.2 561.6 362.1 562.3C363.9 563 365.8 563.8 367.6 564.5C369.4 565.3 371.3 566 373.1 566.8C374.9 567.6 376.7 568.4 378.5 569.2C380.3 570 382.1 570.9 383.9 571.7C385.7 572.6 387.4 573.5 389.2 574.3C391 575.2 392.7 576.1 394.5 577.1C396.2 578 398 578.9 399.7 579.9C401.4 580.9 403.1 581.9 404.8 582.9C406.5 583.9 408.2 584.9 409.9 585.9C411.6 587 413.3 588.1 415 589.1C416.6 590.2 418.3 591.3 419.9 592.5C421.6 593.6 423.2 594.8 424.8 595.9C426.4 597.1 428.1 598.3 429.7 599.5C431.2 600.7 432.8 602 434.4 603.2C436 604.5 437.5 605.7 439.1 607C440.6 608.3 442.2 609.6 443.7 611C445.2 612.3 446.7 613.7 448.2 615C449.7 616.4 451.1 617.8 452.6 619.2C454.1 620.6 455.5 622 456.9 623.5C458.3 624.9 459.7 626.4 461.1 627.9C462.5 629.4 463.9 630.9 465.2 632.4C466.6 633.9 467.9 635.4 469.2 637C470.6 638.5 471.9 640.1 473.1 641.6C474.4 643.2 475.7 644.8 476.9 646.4C478.1 648 479.3 649.6 480.5 651.3C481.7 652.9 482.9 654.6 484.1 656.2C485.2 657.9 486.3 659.6 487.4 661.3C488.5 663 489.6 664.7 490.7 666.4C491.8 668.1 492.8 669.8 493.8 671.6C494.9 673.3 495.9 675.1 496.9 676.8C497.9 678.6 498.9 680.4 499.8 682.1C500.8 683.9 501.7 685.7 502.7 687.5C503.6 689.3 504.5 691.1 505.4 692.9C506.4 694.7 507.3 696.5 508.1 698.3C509 700.2 509.9 702 510.8 703.8C511.7 705.6 512.5 707.5 513.4 709.3C514.2 711.1 515.1 713 515.9 714.8C516.8 716.6 517.6 718.5 518.4 720.3C519.3 722.2 520.1 724 520.9 725.8C521.8 727.7 522.6 729.5 523.4 731.4C524.2 733.2 525.1 735 525.9 736.9C526.7 738.7 527.6 740.5 528.4 742.4C529.2 744.2 530.1 746 530.9 747.8C531.7 749.6 532.6 751.5 533.4 753.3C534.3 755.1 535.1 756.9 536 758.7C536.9 760.4 538.2 763.1 538.6 764" stroke="#231f20" stroke-width="3.2" fill="none" stroke-linejoin="round"/>
<path d="M392.3 239.9L392.3 315" stroke="#231f20" stroke-width="3.2" fill="none" stroke-linejoin="round"/>
<path d="M392.3 575.5L392.3 647.6" stroke="#231f20" stroke-width="3.2" fill="none" stroke-linejoin="round"/>
<path d="M392.3 239.9C393.3 239.9 396.3 240.1 398.3 240.2C400.4 240.3 402.4 240.4 404.4 240.5C406.4 240.6 408.4 240.7 410.4 240.8C412.4 240.9 414.4 241 416.4 241.2C418.5 241.3 420.5 241.4 422.5 241.6C424.5 241.7 426.5 241.8 428.5 242C430.5 242.1 432.5 242.3 434.5 242.4C436.5 242.6 438.5 242.8 440.5 243C442.6 243.1 444.6 243.3 446.6 243.5C448.6 243.7 450.6 243.9 452.6 244.1C454.6 244.3 456.6 244.5 458.6 244.8C460.6 245 462.6 245.2 464.5 245.5C466.5 245.7 468.5 246 470.5 246.2C472.5 246.5 474.5 246.7 476.5 247C478.5 247.3 480.5 247.6 482.5 247.9C484.4 248.2 486.4 248.5 488.4 248.8C490.4 249.1 492.4 249.4 494.3 249.8C496.3 250.1 498.3 250.4 500.3 250.8C502.2 251.1 504.2 251.5 506.2 251.9C508.2 252.3 510.1 252.7 512.1 253.1C514 253.5 516 253.9 518 254.3C519.9 254.7 521.9 255.1 523.8 255.6C525.8 256 527.7 256.5 529.7 256.9C531.6 257.4 533.6 257.9 535.5 258.4C537.5 258.9 539.4 259.4 541.3 259.9C543.3 260.4 545.2 260.9 547.1 261.5C549.1 262 551 262.6 552.9 263.2C554.8 263.7 556.8 264.3 558.7 264.9C560.6 265.5 562.5 266.1 564.4 266.7C566.3 267.4 568.2 268 570.1 268.6C572 269.3 573.9 270 575.8 270.6C577.7 271.3 579.6 272 581.5 272.7C583.4 273.4 585.3 274.1 587.1 274.9C589 275.6 590.9 276.4 592.8 277.1C594.6 277.9 596.5 278.7 598.3 279.4C600.2 280.2 602 281 603.9 281.9C605.7 282.7 607.6 283.5 609.4 284.3C611.2 285.2 613.1 286 614.9 286.9C616.7 287.8 618.5 288.7 620.3 289.6C622.1 290.5 623.9 291.4 625.7 292.3C627.5 293.2 629.3 294.2 631.1 295.1C632.8 296.1 634.6 297 636.4 298C638.1 299 639.9 300 641.6 301C643.4 302 645.1 303 646.9 304C648.6 305.1 650.3 306.1 652 307.2C653.7 308.2 655.4 309.3 657.1 310.4C658.8 311.5 660.5 312.6 662.2 313.7C663.9 314.8 665.5 315.9 667.2 317.1C668.8 318.2 670.5 319.4 672.1 320.6C673.7 321.8 675.3 323 676.9 324.2C678.5 325.4 680.1 326.6 681.7 327.8C683.3 329.1 684.8 330.3 686.4 331.6C687.9 332.9 689.5 334.2 691 335.5C692.5 336.8 694 338.1 695.5 339.4C697 340.8 698.4 342.1 699.9 343.5C701.3 344.9 702.8 346.3 704.2 347.7C705.6 349.1 707 350.5 708.4 351.9C709.7 353.4 711.1 354.9 712.4 356.3C713.8 357.8 715.1 359.3 716.4 360.8C717.7 362.3 719 363.9 720.2 365.4C721.5 367 722.7 368.6 724 370.2C725.2 371.8 726.4 373.4 727.5 375C728.7 376.7 729.8 378.3 731 380C732.1 381.7 733.2 383.4 734.3 385.1C735.3 386.8 736.9 389.4 737.4 390.3" stroke="#231f20" stroke-width="3.2" fill="none" stroke-linejoin="round"/>
<path d="M737.4 390.3L737.4 789.5" stroke="#231f20" stroke-width="3.2" fill="none" stroke-linejoin="round"/>
<path d="M392.3 647.6C397.3 648.1 406.9 649 422.4 650.5C437.9 652 474.7 655.3 485.1 656.3" stroke="#231f20" stroke-width="3.2" fill="none" stroke-linejoin="round"/>
<path d="M539.2 666.2C540.1 666.5 543 667.2 544.9 667.7C546.8 668.3 548.7 668.8 550.6 669.3C552.5 669.8 554.4 670.3 556.3 670.9C558.2 671.4 560.2 671.9 562.1 672.5C564 673 566 673.6 567.9 674.1C569.8 674.6 571.8 675.2 573.7 675.7C575.6 676.3 577.6 676.9 579.5 677.4C581.5 678 583.4 678.6 585.3 679.2C587.3 679.7 589.2 680.3 591.2 680.9C593.1 681.5 595 682.2 597 682.8C598.9 683.4 600.8 684 602.8 684.7C604.7 685.3 606.6 686 608.5 686.6C610.5 687.3 612.4 688 614.3 688.7C616.2 689.4 618.1 690.1 620 690.8C621.9 691.5 623.8 692.2 625.7 693C627.6 693.7 629.4 694.5 631.3 695.2C633.2 696 635 696.8 636.9 697.6C638.7 698.4 640.6 699.2 642.4 700C644.2 700.9 646.1 701.7 647.9 702.6C649.7 703.5 651.5 704.4 653.3 705.3C655 706.2 656.8 707.1 658.6 708C660.3 709 662.1 709.9 663.8 710.9C665.5 711.9 667.3 712.9 669 713.9C670.7 714.9 672.3 716 674 717C675.7 718.1 677.3 719.2 679 720.3C680.6 721.4 682.2 722.5 683.8 723.7C685.4 724.9 687 726 688.6 727.2C690.1 728.4 691.7 729.7 693.2 730.9C694.7 732.2 696.2 733.4 697.7 734.7C699.2 736 700.6 737.4 702 738.7C703.5 740.1 704.9 741.4 706.3 742.9C707.7 744.3 709 745.7 710.4 747.2C711.7 748.6 713 750.1 714.3 751.6C715.6 753.2 716.9 754.7 718.1 756.3C719.4 757.9 720.6 759.5 721.8 761.1C722.9 762.8 724.1 764.4 725.2 766.1C726.4 767.8 727.5 769.5 728.5 771.3C729.6 773.1 730.7 774.8 731.7 776.7C732.7 778.5 733.7 780.3 734.6 782.2C735.6 784.1 736.9 787 737.4 788" stroke="#231f20" stroke-width="3.2" fill="none" stroke-linejoin="round"/>
<path d="M672.7 321.2C673.7 321.5 676.8 322.4 678.7 323.1C680.7 323.7 682.7 324.4 684.7 325.1C686.6 325.8 688.5 326.6 690.5 327.3C692.4 328.1 694.3 328.9 696.1 329.8C698 330.6 699.9 331.5 701.7 332.4C703.5 333.3 705.4 334.2 707.1 335.1C708.9 336.1 710.7 337.1 712.5 338.1C714.2 339.1 716 340.1 717.7 341.2C719.4 342.3 721.1 343.4 722.8 344.5C724.5 345.6 726.1 346.7 727.8 347.9C729.4 349.1 731 350.2 732.6 351.5C734.2 352.7 735.8 353.9 737.4 355.2C738.9 356.4 740.5 357.7 742 359C743.5 360.3 745 361.7 746.5 363C748 364.4 749.5 365.8 750.9 367.2C752.4 368.5 753.8 370 755.2 371.4C756.6 372.8 758 374.3 759.4 375.8C760.8 377.2 762.1 378.7 763.5 380.2C764.8 381.8 766.2 383.3 767.5 384.8C768.8 386.4 770.1 388 771.3 389.5C772.6 391.1 773.9 392.7 775.1 394.3C776.3 395.9 777.5 397.6 778.8 399.2C780 400.9 781.1 402.5 782.3 404.2C783.5 405.9 784.6 407.6 785.8 409.3C786.9 411 788 412.7 789.1 414.4C790.2 416.1 791.3 417.9 792.4 419.6C793.5 421.4 794.5 423.1 795.5 424.9C796.6 426.7 797.6 428.5 798.6 430.3C799.6 432.1 800.6 433.9 801.6 435.7C802.6 437.5 803.5 439.3 804.5 441.2C805.4 443 806.3 444.8 807.2 446.7C808.2 448.5 809.1 450.4 809.9 452.2C810.8 454.1 811.7 456 812.5 457.9C813.4 459.7 814.2 461.6 815.1 463.5C815.9 465.4 816.7 467.3 817.5 469.2C818.3 471.1 819.1 473 819.8 474.9C820.6 476.8 821.3 478.7 822.1 480.6C822.8 482.5 823.5 484.4 824.2 486.3C824.9 488.2 825.6 490.1 826.3 492.1C827 494 827.7 495.9 828.4 497.8C829 499.7 829.7 501.6 830.3 503.5C831 505.4 831.6 507.4 832.2 509.3C832.8 511.2 833.7 514 834 515" stroke="#231f20" stroke-width="3.2" fill="none" stroke-linejoin="round"/>
<path d="M834 515L834 865.3" stroke="#231f20" stroke-width="3.2" fill="none" stroke-linejoin="round"/>
<path d="M738.3 715C739.2 715.6 741.8 717.2 743.5 718.3C745.2 719.5 746.9 720.6 748.5 721.8C750.2 723 751.8 724.2 753.4 725.5C755 726.7 756.5 728 758 729.3C759.6 730.6 761.1 731.9 762.5 733.2C764 734.6 765.5 735.9 766.9 737.3C768.3 738.7 769.7 740.1 771 741.6C772.4 743 773.7 744.5 775 746C776.3 747.5 777.6 749 778.9 750.5C780.1 752 781.3 753.6 782.5 755.1C783.7 756.7 784.9 758.3 786 759.9C787.2 761.5 788.3 763.1 789.4 764.8C790.5 766.4 791.5 768.1 792.6 769.8C793.6 771.5 794.6 773.2 795.6 774.9C796.6 776.6 797.5 778.3 798.5 780.1C799.4 781.8 800.3 783.6 801.2 785.4C802.1 787.1 803 788.9 803.8 790.7C804.7 792.5 805.5 794.3 806.4 796.2C807.2 798 808 799.8 808.8 801.7C809.6 803.5 810.4 805.3 811.2 807.2C811.9 809 812.7 810.9 813.5 812.8C814.2 814.6 815 816.5 815.7 818.4C816.5 820.2 817.2 822.1 817.9 824C818.7 825.8 819.4 827.7 820.2 829.6C820.9 831.5 821.6 833.3 822.4 835.2C823.1 837.1 823.9 838.9 824.6 840.8C825.4 842.7 826.1 844.5 826.9 846.4C827.6 848.2 828.4 850.1 829.2 851.9C830 853.7 830.8 855.6 831.6 857.4C832.4 859.2 833.6 861.9 834 862.8" stroke="#231f20" stroke-width="3.2" fill="none" stroke-linejoin="round"/>
<path d="M538.6 208.4L538.6 257.3" stroke="#231f20" stroke-width="3.2" fill="none" stroke-linejoin="round"/>
<path d="M538.6 208.4C539.6 208.5 542.4 208.8 544.3 209C546.2 209.2 548.1 209.4 550.1 209.7C552 209.9 553.9 210.1 555.8 210.3C557.8 210.4 559.7 210.6 561.7 210.8C563.6 211 565.6 211.2 567.5 211.4C569.5 211.6 571.4 211.8 573.4 212C575.4 212.2 577.3 212.4 579.3 212.6C581.3 212.8 583.2 212.9 585.2 213.1C587.2 213.3 589.2 213.5 591.2 213.7C593.2 213.9 595.2 214.1 597.2 214.3C599.2 214.5 601.2 214.7 603.2 214.9C605.2 215.1 607.2 215.3 609.2 215.5C611.2 215.7 613.2 215.9 615.2 216.1C617.2 216.3 619.2 216.5 621.2 216.7C623.2 217 625.3 217.2 627.3 217.4C629.3 217.6 631.3 217.9 633.3 218.1C635.3 218.3 637.4 218.6 639.4 218.8C641.4 219.1 643.4 219.3 645.4 219.6C647.5 219.8 649.5 220.1 651.5 220.4C653.5 220.6 655.5 220.9 657.6 221.2C659.6 221.5 661.6 221.8 663.6 222.1C665.6 222.4 667.6 222.7 669.7 223C671.7 223.3 673.7 223.6 675.7 224C677.7 224.3 679.7 224.6 681.7 225C683.7 225.3 685.7 225.7 687.7 226.1C689.7 226.4 691.7 226.8 693.7 227.2C695.7 227.6 697.7 228 699.7 228.4C701.7 228.8 703.7 229.2 705.7 229.7C707.6 230.1 709.6 230.5 711.6 231C713.6 231.5 715.5 231.9 717.5 232.4C719.5 232.9 721.4 233.4 723.4 233.9C725.3 234.4 727.3 234.9 729.2 235.5C731.2 236 733.1 236.5 735 237.1C737 237.7 738.9 238.3 740.8 238.8C742.7 239.4 744.7 240 746.6 240.7C748.5 241.3 750.4 241.9 752.3 242.6C754.2 243.2 756.1 243.9 757.9 244.6C759.8 245.3 761.7 246 763.6 246.7C765.4 247.4 767.3 248.2 769.1 248.9C771 249.7 772.8 250.5 774.6 251.3C776.5 252.1 778.3 252.9 780.1 253.7C781.9 254.5 783.7 255.4 785.5 256.2C787.3 257.1 789.1 258 790.9 258.9C792.7 259.8 794.4 260.7 796.2 261.7C798 262.6 799.7 263.6 801.4 264.6C803.2 265.5 804.9 266.5 806.6 267.6C808.3 268.6 810 269.6 811.7 270.7C813.4 271.7 815.1 272.8 816.7 273.9C818.4 275 820 276.1 821.7 277.2C823.3 278.3 824.9 279.5 826.5 280.7C828.1 281.8 829.7 283 831.3 284.2C832.9 285.4 834.4 286.6 836 287.9C837.5 289.1 839.1 290.4 840.6 291.6C842.1 292.9 843.6 294.2 845.1 295.5C846.5 296.8 848 298.2 849.5 299.5C850.9 300.9 852.3 302.2 853.7 303.6C855.1 305 856.5 306.4 857.9 307.8C859.3 309.2 860.6 310.7 862 312.1C863.3 313.6 864.6 315.1 865.9 316.5C867.2 318 868.5 319.5 869.8 321.1C871 322.6 872.2 324.1 873.5 325.7C874.7 327.3 875.9 328.8 877 330.4C878.2 332 879.4 333.6 880.5 335.3C881.6 336.9 882.7 338.6 883.8 340.2C884.9 341.9 886 343.6 887 345.2C888 346.9 889.1 348.6 890.1 350.4C891.1 352.1 892.1 353.8 893 355.6C894 357.3 895 359.1 895.9 360.8C896.8 362.6 897.7 364.4 898.6 366.2C899.5 368 900.4 369.8 901.3 371.6C902.1 373.4 903 375.3 903.8 377.1C904.6 378.9 905.5 380.8 906.3 382.6C907.1 384.5 907.8 386.3 908.6 388.2C909.4 390.1 910.1 392 910.9 393.9C911.6 395.7 912.3 397.6 913 399.5C913.7 401.4 914.4 403.3 915.1 405.2C915.8 407.2 916.4 409.1 917.1 411C917.8 412.9 918.4 414.8 919 416.8C919.7 418.7 920.3 420.6 920.9 422.6C921.5 424.5 922.1 426.4 922.7 428.4C923.2 430.3 923.8 432.2 924.4 434.2C924.9 436.1 925.5 438.1 926 440C926.6 442 927.1 443.9 927.6 445.8C928.1 447.8 928.6 449.7 929.1 451.7C929.6 453.6 930.1 455.5 930.6 457.5C931.1 459.4 931.6 461.3 932.1 463.3C932.6 465.2 933 467.1 933.5 469C934 471 934.4 472.9 934.9 474.8C935.3 476.7 936 479.5 936.2 480.5" stroke="#231f20" stroke-width="3.2" fill="none" stroke-linejoin="round"/>
<path d="M936.3 480.5L936.3 1015" stroke="#231f20" stroke-width="3.2" fill="none" stroke-linejoin="round"/>
<path d="M834.3 763.2C834.9 764 836.7 766.5 837.9 768.2C839.1 769.8 840.3 771.5 841.4 773.2C842.6 774.8 843.7 776.5 844.8 778.2C845.9 779.9 847 781.7 848.1 783.4C849.2 785.1 850.2 786.8 851.2 788.6C852.3 790.3 853.3 792.1 854.3 793.9C855.3 795.6 856.2 797.4 857.2 799.2C858.2 801 859.1 802.8 860.1 804.6C861 806.4 861.9 808.2 862.8 810C863.7 811.8 864.6 813.6 865.5 815.5C866.3 817.3 867.2 819.1 868 821C868.9 822.8 869.7 824.7 870.5 826.5C871.3 828.4 872.1 830.3 872.9 832.1C873.7 834 874.5 835.9 875.2 837.8C876 839.6 876.7 841.5 877.5 843.4C878.2 845.3 878.9 847.2 879.7 849.1C880.4 851.1 881.1 853 881.8 854.9C882.4 856.8 883.1 858.7 883.8 860.7C884.5 862.6 885.1 864.5 885.8 866.5C886.4 868.4 887.1 870.3 887.7 872.3C888.3 874.2 888.9 876.2 889.5 878.1C890.1 880.1 890.7 882.1 891.3 884C891.9 886 892.5 887.9 893.1 889.9C893.7 891.9 894.2 893.9 894.8 895.8C895.3 897.8 895.9 899.8 896.4 901.8C897 903.7 897.5 905.7 898.1 907.7C898.6 909.7 899.1 911.7 899.6 913.7C900.1 915.7 900.7 917.7 901.2 919.7C901.7 921.6 902.2 923.6 902.7 925.6C903.2 927.6 903.7 929.6 904.1 931.6C904.6 933.6 905.1 935.6 905.6 937.6C906.1 939.6 906.5 941.6 907 943.6C907.5 945.6 908 947.6 908.4 949.6C908.9 951.6 909.3 953.6 909.8 955.6C910.3 957.6 910.7 959.6 911.2 961.6C911.6 963.6 912.1 965.6 912.5 967.6C913 969.6 913.4 971.6 913.9 973.6C914.3 975.6 914.8 977.6 915.2 979.6C915.7 981.6 916.1 983.6 916.6 985.5C917 987.5 917.4 989.5 917.9 991.5C918.3 993.5 918.8 995.5 919.2 997.5C919.7 999.4 920.1 1001.4 920.6 1003.4C921 1005.4 921.5 1007.3 921.9 1009.3C922.4 1011.3 923.1 1014.2 923.3 1015.2" stroke="#231f20" stroke-width="3.2" fill="none" stroke-linejoin="round"/>
<path d="M737.4 231.1L737.4 239" stroke="#231f20" stroke-width="3.2" fill="none" stroke-linejoin="round"/>
<path d="M737.2 231.1C738.1 231.3 741 231.9 742.9 232.3C744.8 232.7 746.7 233 748.6 233.4C750.5 233.8 752.4 234.2 754.4 234.5C756.3 234.9 758.2 235.3 760.2 235.7C762.1 236 764.1 236.4 766 236.8C768 237.1 770 237.5 771.9 237.9C773.9 238.2 775.9 238.6 777.9 239C779.9 239.3 781.8 239.7 783.8 240.1C785.8 240.5 787.8 240.8 789.8 241.2C791.8 241.6 793.8 242 795.8 242.3C797.8 242.7 799.9 243.1 801.9 243.5C803.9 243.9 805.9 244.3 807.9 244.7C809.9 245.1 811.9 245.5 814 245.9C816 246.3 818 246.7 820 247.2C822 247.6 824 248 826.1 248.4C828.1 248.9 830.1 249.3 832.1 249.8C834.1 250.2 836.1 250.7 838.1 251.2C840.1 251.6 842.2 252.1 844.2 252.6C846.2 253.1 848.2 253.6 850.1 254.1C852.1 254.6 854.1 255.2 856.1 255.7C858.1 256.2 860.1 256.8 862.1 257.4C864 257.9 866 258.5 868 259.1C869.9 259.7 871.9 260.3 873.8 260.9C875.8 261.5 877.7 262.1 879.6 262.8C881.6 263.4 883.5 264.1 885.4 264.8C887.3 265.4 889.2 266.1 891.1 266.8C893 267.6 894.9 268.3 896.8 269C898.7 269.8 900.5 270.5 902.4 271.3C904.2 272.1 906.1 272.9 907.9 273.7C909.7 274.5 911.5 275.4 913.3 276.2C915.2 277.1 916.9 278 918.7 278.9C920.5 279.8 922.3 280.7 924 281.7C925.8 282.6 927.5 283.6 929.2 284.6C930.9 285.5 932.6 286.6 934.3 287.6C936 288.6 937.7 289.7 939.3 290.8C941 291.9 942.6 293 944.2 294.1C945.9 295.2 947.5 296.4 949 297.6C950.6 298.8 952.2 300 953.7 301.2C955.3 302.5 956.8 303.7 958.3 305C959.8 306.3 961.3 307.7 962.8 309C964.2 310.4 965.7 311.7 967.1 313.1C968.5 314.5 969.9 316 971.3 317.4C972.7 318.9 974.1 320.4 975.4 321.9C976.7 323.4 978.1 324.9 979.4 326.4C980.7 328 981.9 329.5 983.2 331.1C984.4 332.7 985.7 334.3 986.9 335.9C988.1 337.6 989.3 339.2 990.4 340.9C991.6 342.5 992.7 344.2 993.9 345.9C995 347.6 996.1 349.3 997.1 351.1C998.2 352.8 999.3 354.6 1000.3 356.3C1001.3 358.1 1002.3 359.9 1003.3 361.7C1004.3 363.4 1005.2 365.3 1006.2 367.1C1007.1 368.9 1008 370.7 1008.9 372.5C1009.8 374.4 1010.7 376.2 1011.6 378.1C1012.4 379.9 1013.3 381.8 1014.1 383.6C1014.9 385.5 1015.8 387.4 1016.6 389.2C1017.4 391.1 1018.2 393 1019 394.8C1019.8 396.7 1020.5 398.6 1021.3 400.4C1022.1 402.3 1022.9 404.2 1023.6 406C1024.4 407.9 1025.2 409.7 1025.9 411.6C1026.7 413.4 1027.4 415.3 1028.2 417.1C1029 419 1029.7 420.8 1030.5 422.6C1031.3 424.4 1032.4 427.1 1032.8 428" stroke="#231f20" stroke-width="3.2" fill="none" stroke-linejoin="round"/>
<path d="M1032.8 428L1032.8 867" stroke="#231f20" stroke-width="3.2" fill="none" stroke-linejoin="round"/>
<path d="M937 693.4C937.8 694 940.4 695.7 942.1 697C943.7 698.2 945.4 699.4 947 700.7C948.5 701.9 950.1 703.2 951.6 704.6C953.1 705.9 954.6 707.2 956.1 708.6C957.5 710 959 711.4 960.3 712.8C961.7 714.2 963.1 715.7 964.4 717.1C965.8 718.6 967.1 720.1 968.3 721.6C969.6 723.1 970.8 724.7 972.1 726.2C973.3 727.8 974.5 729.3 975.6 730.9C976.8 732.5 977.9 734.1 979 735.8C980.2 737.4 981.2 739.1 982.3 740.7C983.4 742.4 984.4 744.1 985.4 745.8C986.5 747.5 987.4 749.2 988.4 750.9C989.4 752.6 990.4 754.4 991.3 756.1C992.2 757.9 993.1 759.6 994 761.4C994.9 763.2 995.8 765 996.7 766.8C997.6 768.6 998.4 770.4 999.2 772.2C1000.1 774.1 1000.9 775.9 1001.7 777.7C1002.5 779.6 1003.3 781.4 1004 783.3C1004.8 785.2 1005.6 787 1006.3 788.9C1007.1 790.8 1007.8 792.6 1008.5 794.5C1009.3 796.4 1010 798.3 1010.7 800.2C1011.4 802.1 1012.1 804 1012.8 805.9C1013.5 807.8 1014.2 809.7 1014.9 811.6C1015.5 813.5 1016.2 815.4 1016.9 817.3C1017.5 819.2 1018.2 821.1 1018.9 823C1019.5 824.9 1020.2 826.8 1020.8 828.7C1021.5 830.6 1022.1 832.5 1022.8 834.4C1023.4 836.3 1024.1 838.2 1024.7 840.1C1025.4 842 1026 843.9 1026.7 845.8C1027.3 847.6 1028 849.5 1028.6 851.4C1029.3 853.2 1029.9 855.1 1030.6 857C1031.3 858.8 1032.3 861.6 1032.6 862.5" stroke="#231f20" stroke-width="3.2" fill="none" stroke-linejoin="round"/>
<path d="M936.5 730.1L981 740.2" stroke="#231f20" stroke-width="3.2" fill="none" stroke-linejoin="round"/>
<path d="M977.2 322.9C978.2 323.2 981.1 324.2 983 324.8C984.9 325.5 986.8 326.2 988.7 326.9C990.6 327.6 992.5 328.3 994.4 329C996.2 329.8 998.1 330.6 1000 331.3C1001.8 332.1 1003.7 332.9 1005.5 333.8C1007.4 334.6 1009.2 335.5 1011 336.3C1012.9 337.2 1014.7 338.1 1016.5 339C1018.3 339.9 1020.1 340.9 1021.9 341.8C1023.7 342.8 1025.4 343.7 1027.2 344.7C1029 345.7 1030.7 346.7 1032.4 347.8C1034.2 348.8 1035.9 349.8 1037.6 350.9C1039.3 352 1041 353.1 1042.7 354.2C1044.4 355.3 1046.1 356.4 1047.8 357.6C1049.4 358.7 1051.1 359.9 1052.7 361.1C1054.3 362.2 1056 363.4 1057.6 364.7C1059.2 365.9 1060.8 367.1 1062.3 368.4C1063.9 369.6 1065.5 370.9 1067 372.2C1068.6 373.5 1070.1 374.8 1071.6 376.1C1073.1 377.5 1074.6 378.8 1076.1 380.2C1077.6 381.5 1079.1 382.9 1080.5 384.3C1082 385.7 1083.4 387.1 1084.8 388.6C1086.2 390 1087.6 391.4 1089 392.9C1090.4 394.4 1091.7 395.8 1093.1 397.3C1094.4 398.8 1095.7 400.4 1097.1 401.9C1098.4 403.4 1099.6 405 1100.9 406.5C1102.2 408.1 1103.4 409.7 1104.7 411.3C1105.9 412.9 1107.1 414.5 1108.3 416.1C1109.5 417.7 1110.6 419.4 1111.8 421C1112.9 422.7 1114.1 424.3 1115.2 426C1116.3 427.7 1117.4 429.4 1118.4 431.1C1119.5 432.8 1120.5 434.6 1121.6 436.3C1122.6 438.1 1123.6 439.8 1124.5 441.6C1125.5 443.4 1126.5 445.2 1127.4 446.9C1128.4 448.7 1129.3 450.6 1130.2 452.4C1131 454.2 1131.9 456 1132.8 457.9C1133.6 459.8 1134.8 462.6 1135.2 463.5" stroke="#231f20" stroke-width="3.2" fill="none" stroke-linejoin="round"/>
<path d="M1135.2 463.5L1135.2 903" stroke="#231f20" stroke-width="3.2" fill="none" stroke-linejoin="round"/>
<path d="M1033.4 760.6C1034.4 761 1037.3 762.2 1039.2 763.1C1041.1 764 1042.9 764.9 1044.8 765.9C1046.6 766.9 1048.4 767.9 1050.1 769C1051.8 770 1053.5 771.1 1055.2 772.3C1056.9 773.4 1058.5 774.6 1060.1 775.8C1061.7 777 1063.2 778.3 1064.8 779.6C1066.3 780.8 1067.8 782.2 1069.3 783.5C1070.7 784.9 1072.2 786.3 1073.6 787.7C1075 789.1 1076.3 790.6 1077.7 792C1079 793.5 1080.3 795 1081.6 796.6C1082.9 798.1 1084.2 799.7 1085.4 801.3C1086.6 802.8 1087.8 804.5 1089 806.1C1090.2 807.7 1091.4 809.4 1092.5 811.1C1093.6 812.7 1094.8 814.4 1095.8 816.2C1096.9 817.9 1098 819.6 1099.1 821.4C1100.1 823.1 1101.1 824.9 1102.1 826.7C1103.1 828.4 1104.1 830.2 1105.1 832.1C1106.1 833.9 1107 835.7 1108 837.5C1108.9 839.4 1109.8 841.2 1110.7 843C1111.7 844.9 1112.5 846.8 1113.4 848.6C1114.3 850.5 1115.2 852.4 1116 854.2C1116.9 856.1 1117.7 858 1118.6 859.9C1119.4 861.8 1120.2 863.6 1121 865.5C1121.8 867.4 1122.6 869.3 1123.4 871.2C1124.2 873.1 1125 874.9 1125.8 876.8C1126.6 878.7 1127.4 880.6 1128.1 882.4C1128.9 884.3 1129.7 886.2 1130.4 888C1131.2 889.9 1132 891.7 1132.7 893.5C1133.5 895.4 1134.6 898.1 1135 899" stroke="#231f20" stroke-width="3.2" fill="none" stroke-linejoin="round"/>
<path d="M1126.8 448.3C1127.8 448.6 1130.7 449.5 1132.6 450.2C1134.6 450.8 1136.5 451.5 1138.4 452.2C1140.4 452.8 1142.3 453.5 1144.2 454.2C1146.1 455 1148 455.7 1149.9 456.4C1151.8 457.2 1153.7 457.9 1155.6 458.7C1157.5 459.4 1159.4 460.2 1161.3 461C1163.2 461.8 1165 462.6 1166.9 463.5C1168.7 464.3 1170.6 465.2 1172.4 466C1174.3 466.9 1176.1 467.8 1177.9 468.7C1179.8 469.6 1181.6 470.5 1183.4 471.4C1185.2 472.3 1187 473.3 1188.8 474.2C1190.6 475.2 1192.3 476.2 1194.1 477.2C1195.9 478.2 1197.6 479.2 1199.4 480.2C1201.1 481.2 1202.9 482.3 1204.6 483.4C1206.3 484.4 1208 485.5 1209.7 486.6C1211.4 487.7 1213.1 488.8 1214.8 489.9C1216.5 491 1218.1 492.2 1219.8 493.3C1221.4 494.5 1223.1 495.7 1224.7 496.9C1226.3 498 1227.9 499.3 1229.5 500.5C1231.2 501.7 1232.7 502.9 1234.3 504.2C1235.9 505.4 1237.5 506.7 1239 508C1240.6 509.3 1242.1 510.6 1243.6 511.9C1245.1 513.2 1246.6 514.6 1248.1 515.9C1249.6 517.2 1251.1 518.6 1252.6 520C1254 521.4 1255.5 522.8 1256.9 524.2C1258.4 525.6 1259.8 527 1261.2 528.5C1262.6 529.9 1264 531.4 1265.3 532.8C1266.7 534.3 1268.1 535.8 1269.4 537.3C1270.8 538.8 1272.1 540.3 1273.4 541.9C1274.7 543.4 1276 544.9 1277.3 546.5C1278.6 548.1 1279.8 549.6 1281.1 551.2C1282.3 552.8 1283.6 554.4 1284.8 556C1286 557.6 1287.2 559.3 1288.4 560.9C1289.6 562.5 1290.8 564.2 1291.9 565.8C1293.1 567.5 1294.2 569.2 1295.4 570.8C1296.5 572.5 1297.6 574.2 1298.7 575.9C1299.8 577.6 1300.9 579.4 1302 581.1C1303 582.8 1304.1 584.6 1305.1 586.3C1306.2 588 1307.2 589.8 1308.2 591.6C1309.2 593.3 1310.2 595.1 1311.1 596.9C1312.1 598.7 1313.1 600.5 1314 602.3C1315 604.1 1315.9 605.9 1316.8 607.7C1317.7 609.6 1318.6 611.4 1319.5 613.2C1320.4 615.1 1321.2 616.9 1322.1 618.8C1323 620.6 1323.8 622.5 1324.6 624.3C1325.4 626.2 1326.2 628.1 1327 630C1327.8 631.8 1328.6 633.7 1329.4 635.6C1330.2 637.5 1330.9 639.4 1331.6 641.3C1332.4 643.2 1333.4 646 1333.8 647" stroke="#231f20" stroke-width="3.2" fill="none" stroke-linejoin="round"/>
<path d="M1333.8 647L1333.8 909.5" stroke="#231f20" stroke-width="3.2" fill="none" stroke-linejoin="round"/>
<path d="M1135.5 635.4C1136.5 635.7 1139.4 636.7 1141.3 637.4C1143.2 638.1 1145.1 638.9 1147 639.6C1148.9 640.4 1150.8 641.1 1152.7 641.9C1154.5 642.7 1156.4 643.5 1158.2 644.4C1160.1 645.2 1161.9 646.1 1163.7 646.9C1165.6 647.8 1167.4 648.7 1169.2 649.6C1171 650.5 1172.8 651.4 1174.5 652.4C1176.3 653.4 1178.1 654.3 1179.8 655.3C1181.6 656.3 1183.3 657.3 1185 658.4C1186.7 659.4 1188.4 660.4 1190.1 661.5C1191.8 662.6 1193.5 663.7 1195.2 664.8C1196.9 665.9 1198.5 667 1200.1 668.1C1201.8 669.3 1203.4 670.4 1205 671.6C1206.6 672.8 1208.2 674 1209.8 675.2C1211.4 676.4 1213 677.6 1214.6 678.9C1216.1 680.1 1217.7 681.4 1219.2 682.7C1220.7 684 1222.3 685.3 1223.8 686.6C1225.3 687.9 1226.8 689.2 1228.2 690.6C1229.7 691.9 1231.2 693.3 1232.6 694.6C1234.1 696 1235.5 697.4 1236.9 698.8C1238.3 700.2 1239.7 701.6 1241.1 703.1C1242.5 704.5 1243.9 705.9 1245.3 707.4C1246.6 708.9 1248 710.3 1249.3 711.8C1250.6 713.3 1252 714.8 1253.3 716.3C1254.6 717.9 1255.9 719.4 1257.1 720.9C1258.4 722.5 1259.7 724 1260.9 725.6C1262.2 727.2 1263.4 728.8 1264.6 730.4C1265.8 731.9 1267 733.6 1268.2 735.2C1269.4 736.8 1270.6 738.4 1271.7 740.1C1272.9 741.7 1274 743.4 1275.1 745C1276.3 746.7 1277.4 748.4 1278.5 750C1279.6 751.7 1280.6 753.4 1281.7 755.1C1282.8 756.8 1283.8 758.5 1284.8 760.3C1285.9 762 1286.9 763.7 1287.9 765.5C1288.9 767.2 1289.9 769 1290.9 770.7C1291.8 772.5 1292.8 774.3 1293.7 776.1C1294.7 777.8 1295.6 779.6 1296.5 781.4C1297.4 783.2 1298.3 785 1299.2 786.8C1300.1 788.7 1300.9 790.5 1301.8 792.3C1302.6 794.1 1303.5 796 1304.3 797.8C1305.1 799.7 1305.9 801.5 1306.7 803.4C1307.5 805.2 1308.2 807.1 1309 809C1309.7 810.8 1310.5 812.7 1311.2 814.6C1311.9 816.5 1312.6 818.4 1313.3 820.3C1314 822.1 1314.7 824 1315.3 826C1316 827.9 1316.7 829.8 1317.3 831.7C1317.9 833.6 1318.5 835.5 1319.1 837.4C1319.7 839.4 1320.3 841.3 1320.9 843.2C1321.4 845.2 1322 847.1 1322.5 849C1323.1 851 1323.6 852.9 1324.1 854.9C1324.6 856.8 1325.1 858.8 1325.5 860.7C1326 862.7 1326.5 864.6 1326.9 866.6C1327.4 868.6 1327.8 870.5 1328.2 872.5C1328.6 874.4 1329 876.4 1329.4 878.4C1329.7 880.3 1330.1 882.3 1330.4 884.3C1330.8 886.3 1331.1 888.2 1331.4 890.2C1331.7 892.2 1332 894.2 1332.3 896.1C1332.6 898.1 1332.9 900.1 1333.1 902.1C1333.4 904 1333.7 907 1333.8 908" stroke="#231f20" stroke-width="3.2" fill="none" stroke-linejoin="round"/>
<path d="M622 176.1L622 215.8" stroke="#231f20" stroke-width="3.2" fill="none" stroke-linejoin="round"/>
<path d="M622 176.1C623 176.1 626.1 176.1 628.1 176.1C630.1 176.1 632.1 176.1 634.1 176.1C636.2 176.1 638.2 176.1 640.2 176.1C642.2 176.1 644.3 176.1 646.3 176.1C648.3 176.1 650.3 176.2 652.3 176.2C654.3 176.2 656.4 176.2 658.4 176.3C660.4 176.3 662.4 176.3 664.4 176.4C666.4 176.4 668.5 176.5 670.5 176.5C672.5 176.6 674.5 176.6 676.5 176.7C678.5 176.7 680.6 176.8 682.6 176.9C684.6 176.9 686.6 177 688.6 177.1C690.6 177.1 692.6 177.2 694.6 177.3C696.6 177.3 698.7 177.4 700.7 177.5C702.7 177.6 704.7 177.7 706.7 177.7C708.7 177.8 710.7 177.9 712.7 178C714.7 178.1 716.7 178.2 718.7 178.3C720.8 178.4 722.8 178.5 724.8 178.6C726.8 178.7 728.8 178.8 730.8 178.9C732.8 179 734.8 179.1 736.8 179.2C738.8 179.3 740.8 179.4 742.8 179.5C744.8 179.6 746.8 179.7 748.8 179.9C750.9 180 752.9 180.1 754.9 180.2C756.9 180.3 758.9 180.4 760.9 180.6C762.9 180.7 764.9 180.8 766.9 180.9C768.9 181.1 770.9 181.2 772.9 181.3C774.9 181.4 776.9 181.6 778.9 181.7C780.9 181.8 782.9 182 784.9 182.1C786.9 182.2 788.9 182.4 790.9 182.5C792.9 182.6 794.9 182.8 796.9 182.9C799 183 801 183.2 803 183.3C805 183.4 807 183.6 809 183.7C811 183.8 813 184 815 184.1C817 184.3 819 184.4 821 184.5C823 184.7 825 184.8 827 185C829 185.1 831 185.2 833 185.4C835 185.5 837 185.7 839 185.8C841.1 185.9 843.1 186.1 845.1 186.2C847.1 186.4 849.1 186.5 851.1 186.6C853.1 186.8 855.1 186.9 857.1 187.1C859.1 187.2 861.1 187.3 863.1 187.5C865.1 187.6 867.1 187.7 869.1 187.9C871.2 188 873.2 188.2 875.2 188.3C877.2 188.4 879.2 188.6 881.2 188.7C883.2 188.9 885.2 189 887.2 189.2C889.2 189.3 891.2 189.5 893.3 189.6C895.3 189.7 897.3 189.9 899.3 190.1C901.3 190.2 903.3 190.4 905.3 190.5C907.3 190.7 909.3 190.8 911.3 191C913.3 191.2 915.3 191.3 917.3 191.5C919.4 191.7 921.4 191.8 923.4 192C925.4 192.2 927.4 192.4 929.4 192.5C931.4 192.7 933.4 192.9 935.4 193.1C937.4 193.3 939.4 193.5 941.4 193.7C943.4 193.9 945.4 194.1 947.4 194.3C949.4 194.5 951.4 194.7 953.4 194.9C955.4 195.1 957.4 195.4 959.4 195.6C961.5 195.8 963.5 196.1 965.5 196.3C967.5 196.5 969.5 196.8 971.5 197C973.4 197.3 975.4 197.6 977.4 197.8C979.4 198.1 981.4 198.4 983.4 198.6C985.4 198.9 987.4 199.2 989.4 199.5C991.4 199.8 993.4 200.1 995.4 200.4C997.4 200.7 999.4 201 1001.4 201.3C1003.4 201.7 1005.4 202 1007.3 202.3C1009.3 202.7 1011.3 203 1013.3 203.4C1015.3 203.7 1017.3 204.1 1019.3 204.5C1021.2 204.8 1023.2 205.2 1025.2 205.6C1027.2 206 1029.2 206.4 1031.1 206.8C1033.1 207.2 1035.1 207.6 1037.1 208.1C1039.1 208.5 1041 208.9 1043 209.4C1045 209.8 1047 210.3 1048.9 210.8C1050.9 211.2 1052.9 211.7 1054.8 212.2C1056.8 212.7 1058.8 213.2 1060.7 213.7C1062.7 214.2 1064.7 214.8 1066.6 215.3C1068.6 215.8 1070.5 216.4 1072.5 216.9C1074.4 217.5 1076.4 218.1 1078.3 218.7C1080.3 219.2 1082.2 219.8 1084.2 220.4C1086.1 221.1 1088 221.7 1090 222.3C1091.9 223 1093.8 223.6 1095.7 224.3C1097.7 224.9 1099.6 225.6 1101.5 226.3C1103.4 227 1105.3 227.7 1107.2 228.4C1109.1 229.1 1110.9 229.9 1112.8 230.6C1114.7 231.4 1116.6 232.1 1118.4 232.9C1120.3 233.7 1122.1 234.5 1124 235.3C1125.8 236.1 1127.7 236.9 1129.5 237.7C1131.3 238.6 1133.1 239.4 1134.9 240.3C1136.8 241.2 1138.5 242.1 1140.3 243C1142.1 243.9 1143.9 244.8 1145.7 245.7C1147.4 246.7 1149.2 247.6 1150.9 248.6C1152.7 249.5 1154.4 250.5 1156.1 251.5C1157.8 252.5 1159.5 253.6 1161.2 254.6C1162.9 255.6 1164.6 256.7 1166.3 257.8C1167.9 258.9 1169.6 259.9 1171.2 261.1C1172.9 262.2 1174.5 263.3 1176.1 264.5C1177.7 265.6 1179.3 266.8 1180.9 268C1182.5 269.2 1184.1 270.4 1185.6 271.6C1187.1 272.8 1188.7 274.1 1190.2 275.3C1191.7 276.6 1193.2 277.9 1194.7 279.2C1196.2 280.5 1197.6 281.8 1199.1 283.2C1200.5 284.5 1201.9 285.9 1203.3 287.3C1204.7 288.7 1206.1 290.1 1207.5 291.5C1208.8 292.9 1210.2 294.4 1211.5 295.8C1212.8 297.3 1214.1 298.8 1215.4 300.3C1216.7 301.8 1217.9 303.3 1219.1 304.9C1220.4 306.4 1221.6 308 1222.7 309.6C1223.9 311.2 1225.1 312.8 1226.2 314.4C1227.3 316 1228.4 317.7 1229.5 319.3C1230.6 321 1231.6 322.7 1232.7 324.4C1233.7 326.1 1234.7 327.9 1235.6 329.6C1236.6 331.4 1237.5 333.2 1238.5 335C1239.4 336.8 1240.2 338.6 1241.1 340.4C1241.9 342.3 1242.8 344.1 1243.5 346C1244.3 347.9 1245.1 349.8 1245.8 351.7C1246.5 353.7 1247.2 355.6 1247.8 357.6C1248.5 359.5 1249.1 361.5 1249.7 363.5C1250.2 365.5 1250.8 367.5 1251.3 369.6C1251.8 371.6 1252.5 374.8 1252.7 375.8" stroke="#231f20" stroke-width="3.2" fill="none" stroke-linejoin="round"/>
<path d="M1252.7 375.8L1252.7 518.4" stroke="#231f20" stroke-width="3.2" fill="none" stroke-linejoin="round"/>
<path d="M738.2 165.6L738.2 179" stroke="#231f20" stroke-width="3.2" fill="none" stroke-linejoin="round"/>
<path d="M738.2 165.6C739.2 165.6 742.2 165.8 744.2 165.8C746.2 165.9 748.2 166 750.2 166.1C752.2 166.2 754.1 166.3 756.1 166.3C758.1 166.4 760.1 166.5 762.1 166.6C764.1 166.6 766.1 166.7 768.1 166.8C770.1 166.9 772.1 167 774.1 167.1C776.1 167.2 778.1 167.3 780.1 167.4C782.1 167.4 784.1 167.5 786.1 167.6C788.1 167.7 790.1 167.8 792.1 167.9C794.1 168 796.1 168 798.1 168.1C800.1 168.2 802.1 168.3 804 168.4C806 168.5 808 168.6 810 168.6C812 168.7 814 168.8 816 168.9C818 169 820 169.1 822 169.2C824 169.2 826 169.3 828 169.4C830 169.5 832 169.6 834 169.7C836 169.8 838 169.9 840 169.9C842 170 844 170.1 846 170.2C848 170.3 850 170.4 852 170.5C854 170.6 856 170.7 858 170.8C860 170.9 862 171 864 171.1C866 171.1 868 171.2 870 171.3C872 171.4 874 171.5 876 171.6C878 171.7 880 171.8 882 171.9C884 172.1 886 172.2 888 172.3C890 172.4 892 172.5 894 172.6C896 172.7 898 172.8 900 172.9C902 173 904 173.1 906 173.3C908 173.4 910 173.5 912 173.6C914 173.7 916 173.9 918 174C920 174.1 922 174.2 924 174.4C926 174.5 928 174.6 930 174.8C932 174.9 934 175 936 175.2C938 175.3 940 175.4 942 175.6C944 175.7 946 175.9 948 176C950 176.2 952 176.3 954 176.5C956 176.6 958 176.8 960 176.9C962 177.1 964 177.2 966 177.4C968 177.6 970 177.7 972 177.9C974 178.1 976 178.3 977.9 178.4C979.9 178.6 981.9 178.8 983.9 179C985.9 179.1 987.9 179.3 989.9 179.5C991.9 179.7 993.9 179.9 995.9 180.1C997.9 180.3 999.9 180.5 1001.9 180.7C1003.8 180.9 1005.8 181.1 1007.8 181.3C1009.8 181.5 1011.8 181.7 1013.8 182C1015.8 182.2 1017.8 182.4 1019.8 182.6C1021.8 182.8 1023.7 183.1 1025.7 183.3C1027.7 183.5 1029.7 183.8 1031.7 184C1033.7 184.3 1035.7 184.5 1037.6 184.8C1039.6 185 1041.6 185.3 1043.6 185.5C1045.6 185.8 1047.6 186 1049.5 186.3C1051.5 186.6 1053.5 186.8 1055.5 187.1C1057.5 187.4 1059.5 187.7 1061.4 188C1063.4 188.2 1065.4 188.5 1067.4 188.8C1069.3 189.1 1071.3 189.4 1073.3 189.7C1075.3 190 1077.3 190.3 1079.2 190.7C1081.2 191 1083.2 191.3 1085.2 191.6C1087.1 191.9 1089.1 192.3 1091.1 192.6C1093.1 192.9 1095 193.3 1097 193.6C1099 194 1100.9 194.3 1102.9 194.7C1104.9 195 1106.9 195.4 1108.8 195.8C1110.8 196.1 1112.8 196.5 1114.7 196.9C1116.7 197.3 1118.7 197.6 1120.6 198C1122.6 198.4 1124.6 198.8 1126.5 199.2C1128.5 199.6 1130.4 200 1132.4 200.4C1134.4 200.8 1136.3 201.3 1138.3 201.7C1140.2 202.1 1142.2 202.5 1144.2 203C1146.1 203.4 1148.1 203.9 1150 204.3C1152 204.8 1153.9 205.2 1155.9 205.7C1157.9 206.1 1159.8 206.6 1161.8 207.1C1163.7 207.6 1165.7 208.1 1167.6 208.6C1169.5 209.1 1171.5 209.6 1173.4 210.1C1175.3 210.6 1177.3 211.2 1179.2 211.7C1181.1 212.3 1183 212.8 1185 213.4C1186.9 214 1188.8 214.6 1190.7 215.2C1192.6 215.8 1194.4 216.4 1196.3 217.1C1198.2 217.7 1200.1 218.4 1201.9 219.1C1203.8 219.8 1205.6 220.5 1207.5 221.2C1209.3 222 1211.1 222.7 1212.9 223.5C1214.7 224.3 1216.5 225.1 1218.3 225.9C1220.1 226.8 1221.9 227.6 1223.6 228.5C1225.4 229.4 1227.1 230.3 1228.9 231.3C1230.6 232.2 1232.3 233.2 1234 234.2C1235.7 235.2 1237.3 236.3 1239 237.4C1240.6 238.4 1242.3 239.5 1243.9 240.7C1245.5 241.8 1247.1 243 1248.7 244.2C1250.3 245.4 1251.8 246.6 1253.4 247.9C1254.9 249.2 1256.5 250.4 1258 251.8C1259.5 253.1 1260.9 254.4 1262.4 255.8C1263.9 257.1 1265.3 258.5 1266.7 260C1268.2 261.4 1269.6 262.8 1271 264.3C1272.3 265.7 1273.7 267.2 1275.1 268.7C1276.4 270.2 1277.7 271.7 1279 273.3C1280.3 274.8 1281.6 276.4 1282.9 277.9C1284.1 279.5 1285.4 281.1 1286.6 282.7C1287.8 284.3 1289 285.9 1290.2 287.6C1291.3 289.2 1292.5 290.8 1293.6 292.5C1294.7 294.2 1295.8 295.8 1296.9 297.5C1298 299.2 1299.1 300.9 1300.1 302.6C1301.2 304.4 1302.2 306.1 1303.2 307.8C1304.2 309.6 1305.2 311.3 1306.2 313.1C1307.1 314.8 1308.1 316.6 1309 318.4C1310 320.2 1310.9 322 1311.7 323.8C1312.6 325.6 1313.5 327.4 1314.4 329.2C1315.2 331 1316.1 332.9 1316.9 334.7C1317.7 336.6 1318.5 338.4 1319.3 340.3C1320 342.1 1320.8 344 1321.5 345.9C1322.3 347.7 1323 349.6 1323.7 351.5C1324.4 353.4 1325.1 355.3 1325.8 357.2C1326.5 359.1 1327.1 361 1327.8 362.9C1328.4 364.8 1329 366.7 1329.6 368.7C1330.3 370.6 1330.8 372.5 1331.4 374.5C1332 376.4 1332.6 378.3 1333.1 380.3C1333.7 382.2 1334.2 384.1 1334.7 386.1C1335.2 388 1335.7 390 1336.2 391.9C1336.7 393.9 1337.1 395.8 1337.6 397.8C1338.1 399.8 1338.5 401.7 1338.9 403.7C1339.3 405.6 1339.8 407.6 1340.2 409.6C1340.6 411.5 1340.9 413.5 1341.3 415.4C1341.7 417.4 1342 419.4 1342.4 421.3C1342.7 423.3 1343.1 425.2 1343.4 427.2C1343.7 429.2 1344 431.1 1344.3 433.1C1344.6 435 1344.9 437 1345.1 438.9C1345.4 440.9 1345.7 442.8 1345.9 444.8C1346.1 446.7 1346.5 449.6 1346.6 450.6" stroke="#231f20" stroke-width="3.2" fill="none" stroke-linejoin="round"/>
<path d="M1224.2 227.8C1225.2 228 1228.2 228.7 1230.3 229.1C1232.3 229.6 1234.3 230.1 1236.2 230.7C1238.2 231.2 1240.2 231.7 1242.2 232.3C1244.1 232.9 1246.1 233.5 1248 234.1C1250 234.8 1251.9 235.4 1253.8 236.1C1255.8 236.8 1257.7 237.5 1259.6 238.2C1261.5 238.9 1263.4 239.7 1265.3 240.4C1267.1 241.2 1269 242 1270.9 242.8C1272.7 243.6 1274.6 244.5 1276.4 245.3C1278.2 246.2 1280 247.1 1281.8 248C1283.6 248.9 1285.4 249.9 1287.2 250.8C1289 251.8 1291.6 253.3 1292.5 253.8" stroke="#231f20" stroke-width="3.2" fill="none" stroke-linejoin="round"/>
<path d="M1292.7 254.9C1293.7 255.2 1296.5 256.2 1298.5 256.9C1300.4 257.5 1302.3 258.2 1304.2 258.8C1306.2 259.4 1308.1 260.1 1310 260.7C1312 261.3 1313.9 261.9 1315.8 262.6C1317.8 263.2 1319.7 263.8 1321.7 264.4C1323.6 265 1325.5 265.7 1327.5 266.3C1329.4 266.9 1331.3 267.5 1333.3 268.1C1335.2 268.8 1337.1 269.4 1339.1 270C1341 270.6 1342.9 271.3 1344.9 271.9C1346.8 272.6 1348.7 273.2 1350.6 273.9C1352.6 274.5 1354.5 275.2 1356.4 275.8C1358.3 276.5 1360.2 277.2 1362.1 277.9C1364 278.6 1365.9 279.3 1367.8 280C1369.7 280.7 1371.6 281.4 1373.5 282.1C1375.4 282.9 1377.3 283.6 1379.1 284.4C1381 285.1 1382.9 285.9 1384.7 286.7C1386.6 287.5 1388.4 288.3 1390.3 289.1C1392.1 290 1393.9 290.8 1395.8 291.7C1397.6 292.5 1399.4 293.4 1401.2 294.3C1403 295.2 1404.8 296.1 1406.6 297.1C1408.4 298 1410.2 299 1411.9 300C1413.7 300.9 1415.5 301.9 1417.2 302.9C1419 303.9 1420.7 305 1422.4 306C1424.2 307 1425.9 308.1 1427.6 309.2C1429.4 310.2 1431.1 311.3 1432.8 312.4C1434.5 313.5 1436.2 314.6 1437.9 315.8C1439.6 316.9 1441.3 318 1442.9 319.2C1444.6 320.3 1446.3 321.5 1448 322.6C1449.6 323.8 1451.3 325 1453 326.2C1454.6 327.3 1456.3 328.5 1457.9 329.7C1459.6 330.9 1461.2 332.2 1462.8 333.4C1464.5 334.6 1466.1 335.8 1467.7 337.1C1469.4 338.3 1471 339.5 1472.6 340.8C1474.2 342 1475.8 343.2 1477.5 344.5C1479.1 345.7 1480.7 347 1482.3 348.3C1483.9 349.5 1485.5 350.8 1487.1 352C1488.7 353.3 1490.3 354.6 1491.9 355.8C1493.4 357.1 1495 358.4 1496.6 359.7C1498.2 361 1499.7 362.3 1501.3 363.6C1502.8 364.9 1504.4 366.2 1505.9 367.5C1507.4 368.8 1508.9 370.2 1510.4 371.5C1511.9 372.9 1513.4 374.2 1514.9 375.6C1516.4 377 1517.9 378.3 1519.3 379.7C1520.7 381.1 1522.2 382.5 1523.6 384C1525 385.4 1526.4 386.8 1527.8 388.3C1529.1 389.7 1530.5 391.2 1531.8 392.7C1533.2 394.2 1534.5 395.7 1535.8 397.2C1537.1 398.7 1538.3 400.3 1539.6 401.8C1540.8 403.4 1542 405 1543.2 406.6C1544.4 408.2 1545.6 409.8 1546.7 411.5C1547.9 413.1 1549 414.8 1550.1 416.5C1551.2 418.2 1552.2 419.9 1553.2 421.7C1554.3 423.4 1555.3 425.2 1556.2 427C1557.2 428.8 1558.2 430.6 1559.1 432.4C1560 434.2 1560.9 436.1 1561.8 437.9C1562.7 439.8 1563.6 441.7 1564.5 443.5C1565.4 445.4 1566.2 447.3 1567.1 449.1C1567.9 451 1568.8 452.9 1569.6 454.8C1570.4 456.7 1571.3 458.5 1572.1 460.4C1573 462.3 1573.8 464.1 1574.6 466C1575.5 467.8 1576.3 469.7 1577.2 471.5C1578.1 473.4 1578.9 475.2 1579.8 477C1580.7 478.8 1582.1 481.4 1582.5 482.3" stroke="#231f20" stroke-width="3.2" fill="none" stroke-linejoin="round"/>
<path d="M1582.5 482.3L1582.5 858.5" stroke="#231f20" stroke-width="3.2" fill="none" stroke-linejoin="round"/>
<path d="M1346.6 450.6L1346.6 757" stroke="#231f20" stroke-width="3.2" fill="none" stroke-linejoin="round"/>
<path d="M1224.2 227.8C1225.2 228 1228.2 228.7 1230.3 229.1C1232.3 229.6 1234.3 230.1 1236.2 230.7C1238.2 231.2 1240.2 231.7 1242.2 232.3C1244.1 232.9 1246.1 233.5 1248 234.1C1250 234.8 1251.9 235.4 1253.8 236.1C1255.8 236.8 1257.7 237.5 1259.6 238.2C1261.5 238.9 1263.4 239.7 1265.3 240.4C1267.1 241.2 1269 242 1270.9 242.8C1272.7 243.6 1274.6 244.5 1276.4 245.3C1278.2 246.2 1280 247.1 1281.8 248C1283.6 248.9 1285.4 249.9 1287.2 250.8C1289 251.8 1290.7 252.8 1292.5 253.8C1294.2 254.8 1295.9 255.8 1297.6 256.8C1299.4 257.9 1301.1 259 1302.7 260C1304.4 261.1 1306.1 262.2 1307.7 263.4C1309.4 264.5 1311 265.7 1312.7 266.8C1314.3 268 1315.9 269.2 1317.5 270.4C1319.1 271.6 1320.6 272.9 1322.2 274.1C1323.8 275.4 1325.3 276.6 1326.8 277.9C1328.4 279.2 1329.9 280.5 1331.4 281.9C1332.8 283.2 1334.3 284.6 1335.8 285.9C1337.2 287.3 1338.7 288.7 1340.1 290.1C1341.5 291.5 1342.9 292.9 1344.3 294.3C1345.7 295.8 1347 297.2 1348.4 298.7C1349.7 300.2 1351.1 301.7 1352.4 303.2C1353.7 304.7 1355 306.2 1356.2 307.8C1357.5 309.3 1358.8 310.9 1360 312.4C1361.2 314 1362.4 315.6 1363.6 317.2C1364.8 318.8 1366 320.4 1367.1 322.1C1368.3 323.7 1369.4 325.4 1370.5 327C1371.6 328.7 1372.7 330.4 1373.8 332.1C1374.9 333.8 1375.9 335.5 1377 337.2C1378 338.9 1379 340.7 1380 342.4C1381 344.2 1381.9 345.9 1382.9 347.7C1383.8 349.5 1384.8 351.3 1385.7 353.1C1386.6 354.9 1387.5 356.7 1388.4 358.5C1389.3 360.3 1390.1 362.1 1391 364C1391.8 365.8 1392.6 367.7 1393.4 369.5C1394.3 371.4 1395 373.2 1395.8 375.1C1396.6 377 1397.3 378.9 1398.1 380.8C1398.8 382.7 1399.5 384.6 1400.2 386.5C1401 388.4 1401.6 390.3 1402.3 392.2C1403 394.2 1403.6 396.1 1404.3 398C1404.9 400 1405.6 401.9 1406.2 403.9C1406.8 405.8 1407.4 407.8 1408 409.7C1408.5 411.7 1409.1 413.7 1409.7 415.6C1410.2 417.6 1410.7 419.6 1411.3 421.6C1411.8 423.5 1412.3 425.5 1412.8 427.5C1413.3 429.5 1413.8 431.5 1414.2 433.5C1414.7 435.5 1415.2 437.4 1415.6 439.4C1416 441.4 1416.5 443.4 1416.9 445.4C1417.3 447.4 1417.7 449.4 1418.1 451.4C1418.5 453.4 1418.9 455.4 1419.2 457.4C1419.6 459.4 1420 461.4 1420.3 463.4C1420.6 465.4 1421 467.4 1421.3 469.4C1421.6 471.4 1421.9 473.4 1422.2 475.4C1422.5 477.3 1422.8 479.3 1423.1 481.3C1423.4 483.3 1423.6 485.3 1423.9 487.3C1424.2 489.3 1424.4 491.2 1424.7 493.2C1424.9 495.2 1425.1 497.2 1425.4 499.1C1425.6 501.1 1425.9 504 1426 505" stroke="#231f20" stroke-width="3.2" fill="none" stroke-linejoin="round"/>
<path d="M1426 505L1426 855.6" stroke="#231f20" stroke-width="3.2" fill="none" stroke-linejoin="round"/>
<path d="M1369.5 324.2C1370.4 324.8 1373 326.4 1374.7 327.6C1376.4 328.7 1378.1 329.9 1379.7 331.1C1381.4 332.3 1383.1 333.5 1384.7 334.7C1386.3 335.9 1387.9 337.2 1389.5 338.4C1391.1 339.7 1392.7 341 1394.3 342.2C1395.8 343.5 1397.4 344.9 1398.9 346.2C1400.4 347.5 1402 348.9 1403.4 350.2C1404.9 351.6 1406.4 353 1407.9 354.4C1409.3 355.7 1410.8 357.2 1412.2 358.6C1413.6 360 1415 361.4 1416.4 362.9C1417.8 364.3 1419.2 365.8 1420.5 367.3C1421.9 368.8 1423.2 370.3 1424.6 371.8C1425.9 373.3 1427.2 374.8 1428.5 376.4C1429.8 377.9 1431 379.5 1432.3 381C1433.6 382.6 1434.8 384.2 1436 385.8C1437.3 387.4 1438.5 389 1439.7 390.6C1440.9 392.2 1442 393.8 1443.2 395.5C1444.4 397.1 1445.5 398.8 1446.7 400.4C1447.8 402.1 1448.9 403.8 1450 405.4C1451.1 407.1 1452.2 408.8 1453.3 410.5C1454.3 412.2 1455.4 414 1456.4 415.7C1457.5 417.4 1458.5 419.2 1459.5 420.9C1460.5 422.7 1461.5 424.4 1462.5 426.2C1463.5 428 1464.5 429.7 1465.4 431.5C1466.4 433.3 1467.3 435.1 1468.3 436.9C1469.2 438.7 1470.1 440.5 1471 442.3C1471.9 444.2 1472.8 446 1473.7 447.8C1474.5 449.7 1475.4 451.5 1476.2 453.4C1477.1 455.2 1477.9 457.1 1478.7 458.9C1479.5 460.8 1480.3 462.7 1481.1 464.6C1481.9 466.4 1482.7 468.3 1483.5 470.2C1484.2 472.1 1485 474 1485.7 475.9C1486.4 477.8 1487.2 479.7 1487.9 481.6C1488.6 483.5 1489.3 485.5 1490 487.4C1490.7 489.3 1491.3 491.2 1492 493.2C1492.7 495.1 1493.3 497 1494 499C1494.6 500.9 1495.2 502.9 1495.8 504.8C1496.4 506.8 1497 508.7 1497.6 510.7C1498.2 512.6 1498.8 514.6 1499.4 516.5C1499.9 518.5 1500.5 520.5 1501 522.4C1501.6 524.4 1502.1 526.4 1502.6 528.3C1503.1 530.3 1503.6 532.3 1504.1 534.3C1504.6 536.2 1505.1 538.2 1505.6 540.2C1506.1 542.2 1506.5 544.1 1507 546.1C1507.4 548.1 1507.9 550.1 1508.3 552C1508.7 554 1509.2 556 1509.6 558C1510 560 1510.4 561.9 1510.8 563.9C1511.2 565.9 1511.5 567.9 1511.9 569.8C1512.3 571.8 1512.6 573.8 1513 575.8C1513.4 577.7 1513.7 579.7 1514 581.7C1514.4 583.7 1514.8 586.6 1515 587.6" stroke="#231f20" stroke-width="3.2" fill="none" stroke-linejoin="round"/>
<path d="M1515 587.6L1515 922.2" stroke="#231f20" stroke-width="3.2" fill="none" stroke-linejoin="round"/>
<path d="M1460.5 335.2C1461.3 335.9 1463.6 338 1465.1 339.4C1466.6 340.8 1468.1 342.2 1469.5 343.6C1471 345.1 1472.4 346.5 1473.8 348C1475.2 349.4 1476.6 350.9 1478 352.4C1479.3 353.9 1480.7 355.4 1482 356.9C1483.4 358.5 1484.7 360 1486 361.6C1487.2 363.1 1488.5 364.7 1489.8 366.2C1491 367.8 1492.2 369.4 1493.4 371C1494.7 372.6 1495.8 374.2 1497 375.8C1498.2 377.5 1499.3 379.1 1500.5 380.7C1501.6 382.4 1502.7 384.1 1503.8 385.7C1504.9 387.4 1506 389.1 1507.1 390.8C1508.1 392.5 1509.2 394.2 1510.2 395.9C1511.2 397.6 1512.2 399.3 1513.2 401C1514.2 402.8 1515.2 404.5 1516.1 406.3C1517.1 408 1518 409.8 1519 411.6C1519.9 413.3 1520.8 415.1 1521.7 416.9C1522.6 418.7 1523.5 420.5 1524.4 422.3C1525.2 424.1 1526.1 425.9 1526.9 427.7C1527.8 429.5 1528.6 431.4 1529.4 433.2C1530.2 435 1531 436.9 1531.8 438.7C1532.6 440.6 1533.4 442.4 1534.1 444.3C1534.9 446.2 1535.6 448 1536.4 449.9C1537.1 451.8 1537.8 453.6 1538.5 455.5C1539.3 457.4 1540 459.3 1540.7 461.2C1541.3 463.1 1542 465 1542.7 466.9C1543.4 468.8 1544 470.7 1544.7 472.6C1545.3 474.5 1545.9 476.4 1546.6 478.4C1547.2 480.3 1547.8 482.2 1548.4 484.1C1549 486.1 1549.6 488 1550.2 489.9C1550.8 491.8 1551.4 493.8 1552 495.7C1552.6 497.6 1553.1 499.6 1553.7 501.5C1554.2 503.5 1554.8 505.4 1555.3 507.4C1555.9 509.3 1556.4 511.2 1556.9 513.2C1557.5 515.1 1558 517.1 1558.5 519C1559 521 1559.6 522.9 1560.1 524.9C1560.6 526.8 1561.1 528.8 1561.6 530.7C1562.1 532.7 1562.6 534.6 1563.1 536.5C1563.6 538.5 1564 540.4 1564.5 542.4C1565 544.3 1565.5 546.3 1566 548.2C1566.5 550.1 1567.2 553 1567.4 554" stroke="#231f20" stroke-width="3.2" fill="none" stroke-linejoin="round"/>
<path d="M1567.4 554L1567.4 979.5" stroke="#231f20" stroke-width="3.2" fill="none" stroke-linejoin="round"/>
<path d="M1334.5 688.7C1334.7 689.7 1335.5 692.7 1336 694.7C1336.5 696.7 1336.9 698.7 1337.4 700.7C1337.9 702.7 1338.3 704.7 1338.7 706.7C1339.1 708.8 1339.5 710.8 1339.9 712.8C1340.3 714.8 1340.7 716.8 1341.1 718.9C1341.4 720.9 1341.8 722.9 1342.1 724.9C1342.4 727 1342.7 729 1343 731C1343.3 733.1 1343.6 735.1 1343.9 737.2C1344.2 739.2 1344.4 741.2 1344.7 743.3C1344.9 745.3 1345.1 747.4 1345.3 749.4C1345.5 751.5 1345.8 754.6 1345.9 755.6" stroke="#231f20" stroke-width="3.2" fill="none" stroke-linejoin="round"/>
<path d="M1347.6 635.6C1348.4 636.3 1350.9 638.2 1352.4 639.6C1353.9 640.9 1355.4 642.3 1356.9 643.8C1358.3 645.2 1359.7 646.7 1361.1 648.2C1362.4 649.7 1363.7 651.2 1364.9 652.8C1366.2 654.3 1367.4 655.9 1368.5 657.5C1369.7 659.2 1370.8 660.8 1371.9 662.5C1373 664.1 1374 665.8 1375 667.6C1376.1 669.3 1377 671 1378 672.8C1378.9 674.6 1379.8 676.4 1380.7 678.2C1381.6 680 1382.4 681.8 1383.3 683.6C1384.1 685.5 1384.9 687.3 1385.7 689.2C1386.4 691.1 1387.2 692.9 1387.9 694.8C1388.7 696.7 1389.4 698.6 1390.1 700.5C1390.8 702.5 1391.5 704.4 1392.1 706.3C1392.8 708.3 1393.5 710.2 1394.1 712.1C1394.8 714.1 1395.4 716 1396 718C1396.7 719.9 1397.3 721.9 1397.9 723.8C1398.5 725.8 1399.2 727.8 1399.8 729.7C1400.4 731.7 1401 733.6 1401.6 735.6C1402.2 737.5 1402.8 739.5 1403.4 741.4C1404.1 743.4 1404.7 745.3 1405.3 747.3C1405.9 749.2 1406.5 751.2 1407 753.1C1407.6 755.1 1408.2 757 1408.8 759C1409.4 760.9 1409.9 762.9 1410.5 764.8C1411 766.8 1411.6 768.7 1412.1 770.7C1412.7 772.6 1413.2 774.6 1413.7 776.5C1414.3 778.5 1414.8 780.5 1415.3 782.4C1415.8 784.4 1416.2 786.3 1416.7 788.3C1417.2 790.3 1417.7 792.2 1418.1 794.2C1418.5 796.2 1419 798.1 1419.4 800.1C1419.8 802.1 1420.2 804.1 1420.6 806.1C1421 808 1421.3 810 1421.7 812C1422 814 1422.4 816 1422.7 818C1423 820 1423.3 822 1423.6 824C1423.8 826 1424.1 828 1424.3 830C1424.6 832.1 1424.8 834.1 1425 836.1C1425.1 838.1 1425.3 840.2 1425.4 842.2C1425.6 844.2 1425.7 846.3 1425.8 848.3C1425.9 850.4 1426 853.5 1426 854.5" stroke="#231f20" stroke-width="3.2" fill="none" stroke-linejoin="round"/>
<path d="M1426.8 702.7C1427.3 703.6 1428.9 706.1 1430 707.9C1431 709.6 1432 711.3 1433.1 713C1434.1 714.8 1435.2 716.5 1436.2 718.3C1437.2 720 1438.3 721.7 1439.3 723.5C1440.3 725.2 1441.3 727 1442.3 728.8C1443.3 730.5 1444.3 732.3 1445.3 734.1C1446.3 735.8 1447.3 737.6 1448.3 739.4C1449.3 741.2 1450.2 742.9 1451.2 744.7C1452.2 746.5 1453.1 748.3 1454.1 750.1C1455.1 751.9 1456 753.7 1457 755.5C1457.9 757.3 1458.8 759.1 1459.8 760.9C1460.7 762.7 1461.6 764.5 1462.6 766.3C1463.5 768.1 1464.4 770 1465.3 771.8C1466.2 773.6 1467.1 775.4 1468 777.3C1468.9 779.1 1469.7 780.9 1470.6 782.8C1471.5 784.6 1472.3 786.5 1473.2 788.3C1474 790.2 1474.9 792 1475.7 793.9C1476.6 795.7 1477.4 797.6 1478.2 799.4C1479 801.3 1479.8 803.2 1480.6 805.1C1481.4 806.9 1482.2 808.8 1483 810.7C1483.8 812.6 1484.5 814.4 1485.3 816.3C1486.1 818.2 1486.8 820.1 1487.5 822C1488.3 823.9 1489 825.8 1489.7 827.7C1490.4 829.6 1491.2 831.5 1491.9 833.4C1492.5 835.3 1493.2 837.2 1493.9 839.1C1494.6 841.1 1495.2 843 1495.9 844.9C1496.5 846.8 1497.2 848.8 1497.8 850.7C1498.4 852.6 1499 854.6 1499.6 856.5C1500.2 858.4 1500.8 860.4 1501.4 862.3C1502 864.3 1502.5 866.2 1503.1 868.2C1503.6 870.1 1504.2 872.1 1504.7 874C1505.2 876 1505.7 878 1506.2 879.9C1506.7 881.9 1507.2 883.9 1507.7 885.9C1508.2 887.8 1508.6 889.8 1509.1 891.8C1509.5 893.8 1509.9 895.8 1510.3 897.7C1510.8 899.7 1511.2 901.7 1511.5 903.7C1511.9 905.7 1512.3 907.7 1512.7 909.7C1513 911.7 1513.4 913.7 1513.7 915.8C1514 917.8 1514.4 920.8 1514.6 921.8" stroke="#231f20" stroke-width="3.2" fill="none" stroke-linejoin="round"/>
<path d="M1515.3 832C1515.7 832.9 1516.9 835.7 1517.7 837.5C1518.5 839.4 1519.3 841.2 1520.1 843.1C1520.9 844.9 1521.7 846.7 1522.5 848.6C1523.3 850.4 1524.1 852.3 1524.8 854.1C1525.6 856 1526.4 857.9 1527.1 859.7C1527.9 861.6 1528.6 863.4 1529.4 865.3C1530.1 867.1 1530.9 869 1531.6 870.9C1532.3 872.7 1533.1 874.6 1533.8 876.5C1534.5 878.3 1535.2 880.2 1535.9 882.1C1536.7 883.9 1537.4 885.8 1538.1 887.7C1538.8 889.6 1539.5 891.4 1540.2 893.3C1540.8 895.2 1541.5 897.1 1542.2 899C1542.9 900.8 1543.5 902.7 1544.2 904.6C1544.9 906.5 1545.5 908.4 1546.2 910.3C1546.8 912.2 1547.5 914.1 1548.1 915.9C1548.8 917.8 1549.4 919.7 1550 921.6C1550.7 923.5 1551.3 925.4 1551.9 927.3C1552.5 929.2 1553.2 931.1 1553.8 933C1554.4 935 1555 936.9 1555.6 938.8C1556.2 940.7 1556.7 942.6 1557.3 944.5C1557.9 946.4 1558.5 948.3 1559.1 950.3C1559.6 952.2 1560.2 954.1 1560.8 956C1561.3 957.9 1561.9 959.9 1562.4 961.8C1563 963.7 1563.5 965.7 1564.1 967.6C1564.6 969.5 1565.1 971.4 1565.6 973.4C1566.2 975.3 1566.9 978.2 1567.2 979.2" stroke="#231f20" stroke-width="3.2" fill="none" stroke-linejoin="round"/>
<path d="M1567.9 826.6L1582.4 859.1" stroke="#231f20" stroke-width="3.2" fill="none" stroke-linejoin="round"/>
<path d="M923.3 1014.6L936.3 1014.6" stroke="#231f20" stroke-width="3.2" fill="none" stroke-linejoin="round"/>
<path d="M76.5 100.8H1641.7V1016H76.5Z" stroke="#231f20" stroke-width="3.4" fill="none"/>
<path d="M113 52V42M195.6 52V42M259.7 52V42M312 52V42M356.2 52V42M394.6 52V42M428.4 52V42M458.6 52V42M511 52V42M555.2 52V42M593.6 52V42M627.4 52V42M657.6 52V42M774 52V42M856.6 52V42M920.7 52V42M973 52V42M1017.2 52V42M1055.6 52V42M1089.4 52V42M1119.6 52V42M1172 52V42M1216.2 52V42M1254.6 52V42M1288.4 52V42M1318.6 52V42M1435 52V42M1517.6 52V42M1581.7 52V42M1634 52V42M165.6 100.8V90.8M248.2 100.8V90.8M312.2 100.8V90.8M364.6 100.8V90.8M408.8 100.8V90.8M447.1 100.8V90.8M481 100.8V90.8M511.2 100.8V90.8M563.5 100.8V90.8M607.8 100.8V90.8M646.1 100.8V90.8M679.9 100.8V90.8M710.2 100.8V90.8M826.6 100.8V90.8M909.2 100.8V90.8M973.2 100.8V90.8M1025.6 100.8V90.8M1069.8 100.8V90.8M1108.1 100.8V90.8M1142 100.8V90.8M1172.2 100.8V90.8M1224.5 100.8V90.8M1268.8 100.8V90.8M1307.1 100.8V90.8M1340.9 100.8V90.8M1371.2 100.8V90.8M1487.6 100.8V90.8M1570.2 100.8V90.8M1634.2 100.8V90.8M128.8 1093V1083M173.1 1093V1083M211.4 1093V1083M245.2 1093V1083M275.5 1093V1083M391.9 1093V1083M474.5 1093V1083M590.9 1093V1083M673.4 1093V1083M737.5 1093V1083M789.8 1093V1083M834.1 1093V1083M872.4 1093V1083M906.2 1093V1083M936.5 1093V1083M1052.9 1093V1083M1135.5 1093V1083M1251.9 1093V1083M1334.4 1093V1083M1398.5 1093V1083M1450.8 1093V1083M1495.1 1093V1083M1533.4 1093V1083M1567.2 1093V1083M1597.5 1093V1083M77 1093V1083M1641.7 976.6H1651.7M1641.7 932.3H1651.7M1641.7 896H1651.7M1641.7 865.4H1651.7M1641.7 838.9H1651.7M1641.7 815.5H1651.7M1641.7 794.5H1651.7M1641.7 758.3H1651.7M1641.7 727.6H1651.7M1641.7 701.1H1651.7M1641.7 677.7H1651.7M1641.7 656.8H1651.7M1641.7 576.2H1651.7M1641.7 519H1651.7M1641.7 474.7H1651.7M1641.7 438.4H1651.7M1641.7 407.8H1651.7M1641.7 381.3H1651.7M1641.7 357.9H1651.7M1641.7 336.9H1651.7M1641.7 300.7H1651.7M1641.7 270H1651.7M1641.7 243.5H1651.7M1641.7 220.1H1651.7M1641.7 199.2H1651.7M1641.7 118.6H1651.7" stroke="#231f20" stroke-width="1.3" fill="none"/>
<path d="M76.5 52H1641.7" stroke="#231f20" stroke-width="3" fill="none"/>
<path d="M76.5 1093H1641.7" stroke="#231f20" stroke-width="3" fill="none"/>
<text x="67.9" y="107" font-size="25.2" text-anchor="end">500</text>
<text x="67.9" y="151.4" font-size="25.2" text-anchor="end">400</text>
<text x="67.9" y="208.6" font-size="25.2" text-anchor="end">300</text>
<text x="67.9" y="289.1" font-size="25.2" text-anchor="end">200</text>
<text x="67.9" y="426.9" font-size="25.2" text-anchor="end">100</text>
<text x="65.9" y="564.6" font-size="25.2" text-anchor="end">50</text>
<text x="65.9" y="609" font-size="25.2" text-anchor="end">40</text>
<text x="65.9" y="666.2" font-size="25.2" text-anchor="end">30</text>
<text x="65.9" y="746.7" font-size="25.2" text-anchor="end">20</text>
<text x="65.9" y="884.5" font-size="25.2" text-anchor="end">10</text>
<text x="63.1" y="1022.2" font-size="25.2" text-anchor="end">5</text>
<text x="1654.5" y="123.6" font-size="25.2">1500</text>
<text x="1654.5" y="206.8" font-size="25.2">1000</text>
<text x="1655.2" y="344.5" font-size="25.2">500</text>
<text x="1655.2" y="388.9" font-size="25.2">400</text>
<text x="1655.2" y="446" font-size="25.2">300</text>
<text x="1655.2" y="526.6" font-size="25.2">200</text>
<text x="1654.5" y="664.4" font-size="25.2">100</text>
<text x="1655.2" y="802.1" font-size="25.2">50</text>
<text x="1655.2" y="846.5" font-size="25.2">40</text>
<text x="1655.2" y="903.6" font-size="25.2">30</text>
<text x="1655.2" y="984.2" font-size="25.2">20</text>
<text x="32.7" y="351" font-size="39" font-weight="bold">H</text>
<text x="34.8" y="375" font-size="26">m</text>
<text x="1670.7" y="270" font-size="37" font-weight="bold">H</text>
<text x="1678" y="297.2" font-size="24">ft</text>
<text x="197.6" y="32.7" font-size="24.6" text-anchor="middle">2</text>
<text x="314" y="32.7" font-size="24.6" text-anchor="middle">3</text>
<text x="396.6" y="32.7" font-size="24.6" text-anchor="middle">4</text>
<text x="460.6" y="32.7" font-size="24.6" text-anchor="middle">5</text>
<text x="659.6" y="32.7" font-size="24.6" text-anchor="middle">10</text>
<text x="858.6" y="32.7" font-size="24.6" text-anchor="middle">20</text>
<text x="975" y="32.7" font-size="24.6" text-anchor="middle">30</text>
<text x="1057.6" y="32.7" font-size="24.6" text-anchor="middle">40</text>
<text x="1121.6" y="32.7" font-size="24.6" text-anchor="middle">50</text>
<text x="1320.6" y="32.7" font-size="24.6" text-anchor="middle">100</text>
<text x="1519.6" y="32.7" font-size="24.6" text-anchor="middle">200</text>
<text x="1636" y="32.7" font-size="24.6" text-anchor="middle">300</text>
<text x="495" y="32.7" font-size="24.6">U.S. g.p.m.</text>
<text x="249.7" y="81.5" font-size="24.6" text-anchor="middle">2</text>
<text x="366.1" y="81.5" font-size="24.6" text-anchor="middle">3</text>
<text x="448.6" y="81.5" font-size="24.6" text-anchor="middle">4</text>
<text x="512.7" y="81.5" font-size="24.6" text-anchor="middle">5</text>
<text x="711.7" y="81.5" font-size="24.6" text-anchor="middle">10</text>
<text x="910.7" y="81.5" font-size="24.6" text-anchor="middle">20</text>
<text x="1027.1" y="81.5" font-size="24.6" text-anchor="middle">30</text>
<text x="1109.6" y="81.5" font-size="24.6" text-anchor="middle">40</text>
<text x="1173.7" y="81.5" font-size="24.6" text-anchor="middle">50</text>
<text x="1372.7" y="81.5" font-size="24.6" text-anchor="middle">100</text>
<text x="1571.7" y="81.5" font-size="24.6" text-anchor="middle">200</text>
<text x="541.8" y="81.5" font-size="24.6">Imp. g.p.m.</text>
<text x="75.7" y="1046.4" font-size="25.2" text-anchor="middle">0,3</text>
<text x="226.4" y="1046.4" font-size="25.2" text-anchor="middle">0,5</text>
<text x="423.3" y="1046.4" font-size="25.2" text-anchor="middle">1</text>
<text x="622.3" y="1046.4" font-size="25.2" text-anchor="middle">2</text>
<text x="738.7" y="1046.4" font-size="25.2" text-anchor="middle">3</text>
<text x="821.3" y="1046.4" font-size="25.2" text-anchor="middle">4</text>
<text x="885.3" y="1046.4" font-size="25.2" text-anchor="middle">5</text>
<text x="1084.3" y="1046.4" font-size="25.2" text-anchor="middle">10</text>
<text x="1283.3" y="1046.4" font-size="25.2" text-anchor="middle">20</text>
<text x="1399.7" y="1046.4" font-size="25.2" text-anchor="middle">30</text>
<text x="1482.3" y="1046.4" font-size="25.2" text-anchor="middle">40</text>
<text x="1546.3" y="1046.4" font-size="25.2" text-anchor="middle">50</text>
<text x="1598.7" y="1046.4" font-size="25.2" text-anchor="middle">60</text>
<text x="1642.9" y="1046.4" font-size="25.2" text-anchor="middle">70</text>
<text x="78.8" y="1074.1" font-size="25.2" text-anchor="middle">5</text>
<text x="277.8" y="1074.1" font-size="25.2" text-anchor="middle">10</text>
<text x="476.8" y="1074.1" font-size="25.2" text-anchor="middle">20</text>
<text x="593.2" y="1074.1" font-size="25.2" text-anchor="middle">30</text>
<text x="675.7" y="1074.1" font-size="25.2" text-anchor="middle">40</text>
<text x="739.8" y="1074.1" font-size="25.2" text-anchor="middle">50</text>
<text x="938.8" y="1074.1" font-size="25.2" text-anchor="middle">100</text>
<text x="1055.2" y="1074.1" font-size="25.2" text-anchor="middle">150</text>
<text x="1137.8" y="1074.1" font-size="25.2" text-anchor="middle">200</text>
<text x="1254.2" y="1074.1" font-size="25.2" text-anchor="middle">300</text>
<text x="1336.7" y="1074.1" font-size="25.2" text-anchor="middle">400</text>
<text x="1400.8" y="1074.1" font-size="25.2" text-anchor="middle">500</text>
<text x="1599.8" y="1074.1" font-size="25.2" text-anchor="middle">1000</text>
<text x="102.5" y="1068" font-size="37" font-weight="bold">Q</text>
<text x="140" y="1048" font-size="25.2">m<tspan font-size="15.5" dy="-9.5">3</tspan><tspan dy="9.5">/h</tspan></text>
<text x="140" y="1074.9" font-size="25.2">l/min</text>
<text x="1588" y="1110" font-size="13.5">72.1002/N</text>
<text x="333.1" y="0" transform="translate(0 453) scale(1 1.07)" font-size="25.1" text-anchor="middle">4SDP 1</text>
<text x="614.6" y="0" transform="translate(0 452) scale(1 1.07)" font-size="25.1" text-anchor="middle">4SDP 2</text>
<text x="785.5" y="0" transform="translate(0 550.9) scale(1 1.07)" font-size="25.1" text-anchor="middle">4SDP 3</text>
<text x="848" y="0" transform="translate(0 407.9) scale(1 1.07)" font-size="25.1" text-anchor="middle">4SDP 4</text>
<text x="977.6" y="0" transform="translate(0 454.4) scale(1 1.07)" font-size="25.1" text-anchor="middle">4SDP 6</text>
<text x="1080.5" y="0" transform="translate(0 551) scale(1 1.07)" font-size="25.1" text-anchor="middle">4SDP 8</text>
<text x="1208.2" y="0" transform="translate(0 590.1) scale(1 1.07)" font-size="25.1" text-anchor="middle">4SDP 16</text>
<text x="1114.4" y="0" transform="translate(0 328.3) scale(1 1.07)" font-size="25.1" text-anchor="middle">6SDN 12</text>
<text x="1300.8" y="0" transform="translate(0 491) scale(1 1.07)" font-size="25.1" text-anchor="middle">6SDN</text>
<text x="1305" y="0" transform="translate(0 517.3) scale(1 1.07)" font-size="25.1" text-anchor="middle">16</text>
<text x="1385.3" y="0" transform="translate(0 491) scale(1 1.07)" font-size="25.1" text-anchor="middle">6SDN</text>
<text x="1387.7" y="0" transform="translate(0 517.3) scale(1 1.07)" font-size="25.1" text-anchor="middle">21</text>
<text x="1479.6" y="0" transform="translate(0 628.2) scale(1 1.07)" font-size="25.1" text-anchor="middle">6</text>
<text x="1479.6" y="0" transform="translate(0 655.4) scale(1 1.07)" font-size="25.1" text-anchor="middle">SD</text>
<text x="1479.6" y="0" transform="translate(0 681) scale(1 1.07)" font-size="25.1" text-anchor="middle">18</text>
<text x="1540" y="0" transform="translate(0 628.2) scale(1 1.07)" font-size="25.1" text-anchor="middle">6</text>
<text x="1540" y="0" transform="translate(0 655.4) scale(1 1.07)" font-size="25.1" text-anchor="middle">SD</text>
<text x="1540" y="0" transform="translate(0 681) scale(1 1.07)" font-size="25.1" text-anchor="middle">19</text>
<text x="1593" y="0" transform="translate(0 402.4) scale(1 1.07)" font-size="25.1" text-anchor="middle">6SD 20</text>
<text x="1293.3" y="189.8" font-size="49.4" font-weight="bold" textLength="275" lengthAdjust="spacingAndGlyphs">SD, SDP, SDN</text>
<path d="M1591.4 410.8L1562.1 483.1" stroke="#231f20" stroke-width="1.4"/>
</svg></body></html>
